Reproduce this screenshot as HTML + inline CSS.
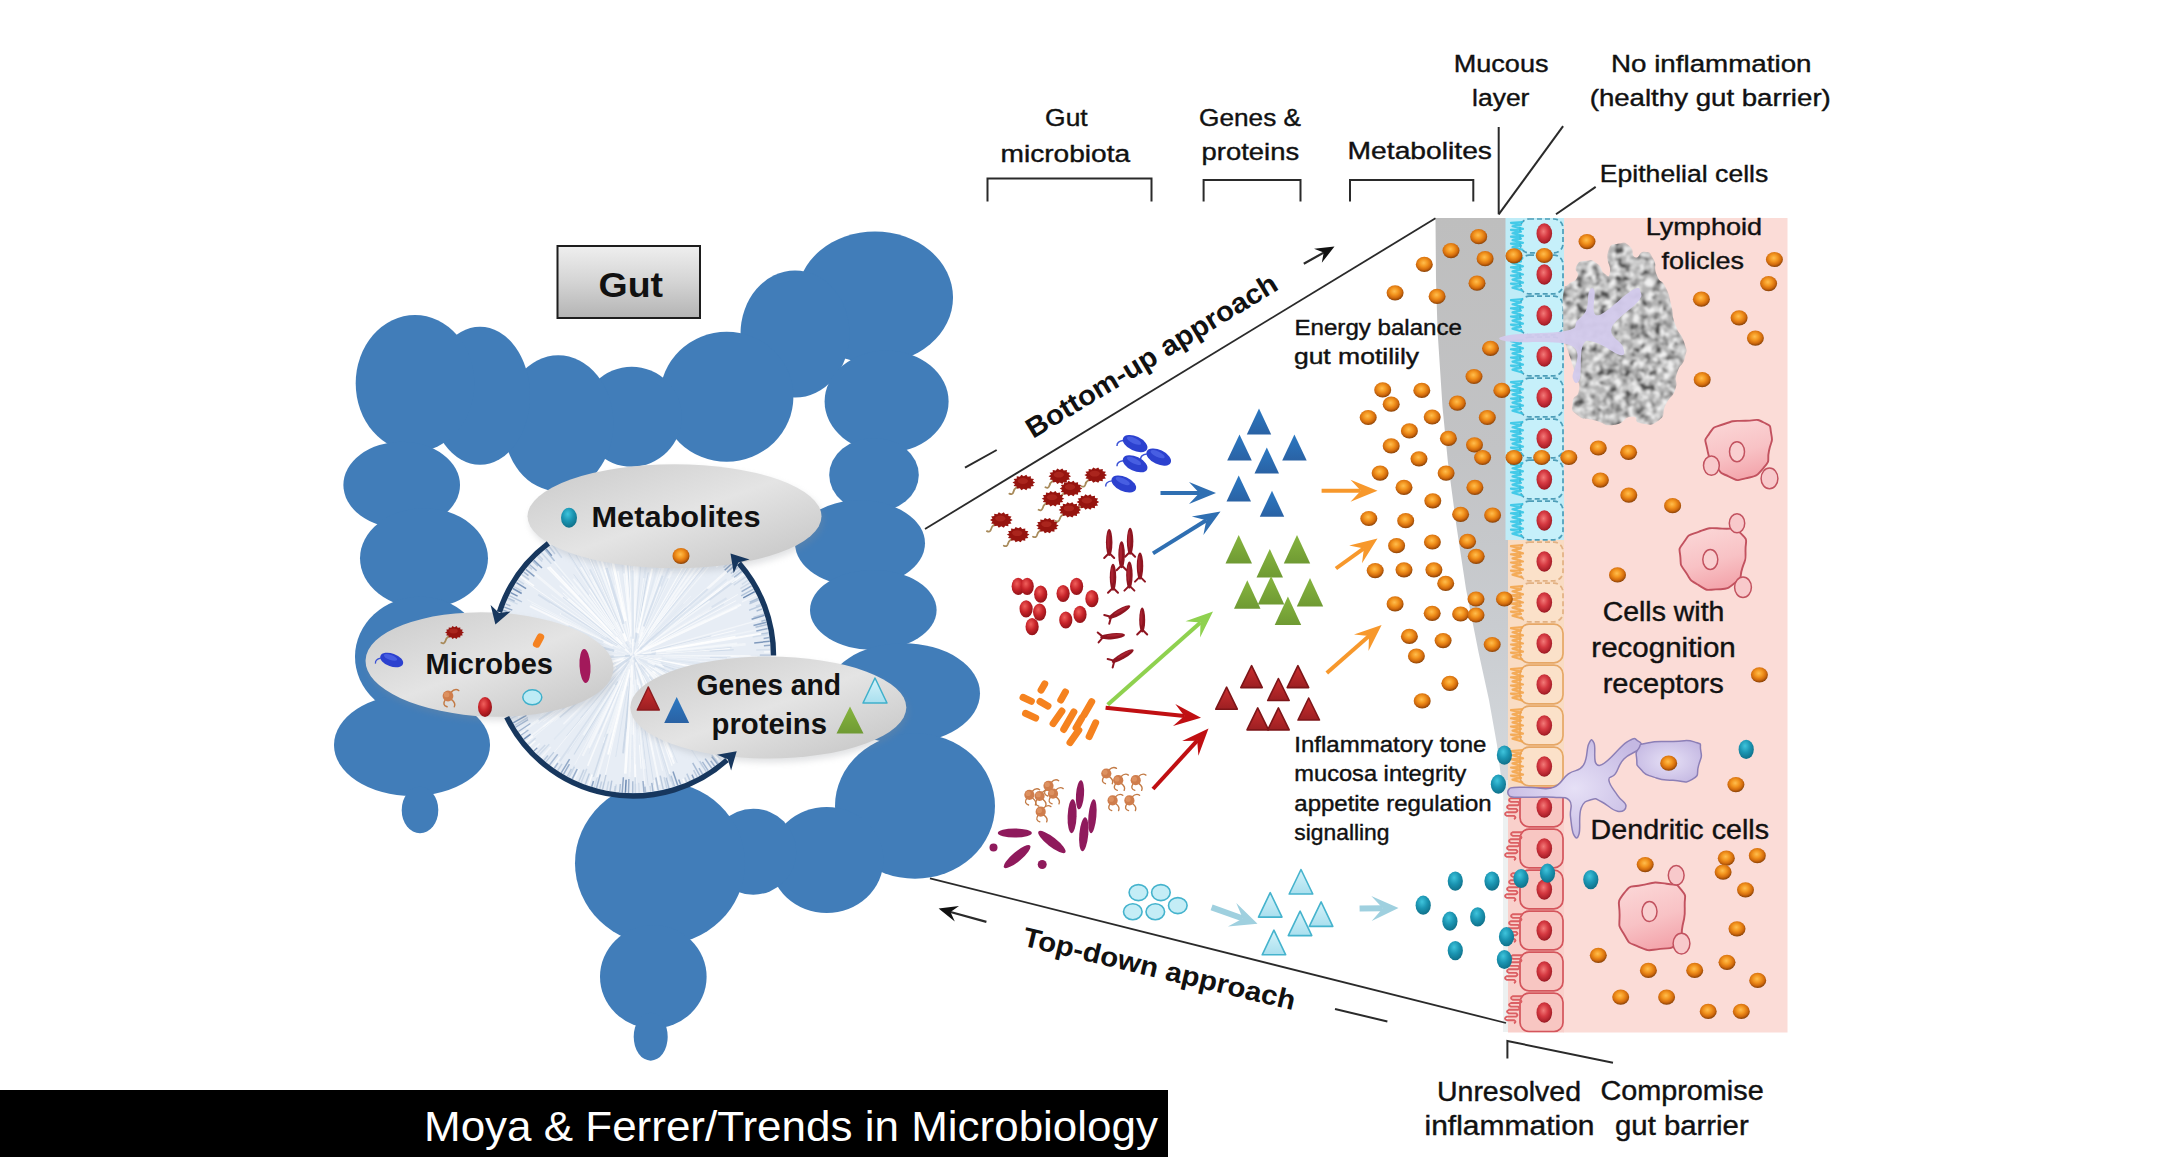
<!DOCTYPE html>
<html lang="en"><head><meta charset="utf-8"><title>Gut microbiota - bottom-up and top-down approaches</title>
<style>
html,body{margin:0;padding:0;background:#ffffff;}
svg{display:block;}
text{font-family:"Liberation Sans","DejaVu Sans",sans-serif;fill:#111;}
</style></head><body>
<svg width="2157" height="1157" viewBox="0 0 2157 1157">

<defs>
<radialGradient id="og" cx="0.46" cy="0.4" r="0.62">
 <stop offset="0" stop-color="#ffbe4e"/><stop offset="0.38" stop-color="#f3951f"/><stop offset="0.7" stop-color="#d36c0d"/><stop offset="0.9" stop-color="#9c4c08"/><stop offset="1" stop-color="#7c3b06"/>
</radialGradient>
<radialGradient id="tg" cx="0.42" cy="0.32" r="0.7">
 <stop offset="0" stop-color="#3fc4dc"/><stop offset="0.5" stop-color="#1b95b2"/><stop offset="1" stop-color="#0f6f88"/>
</radialGradient>
<radialGradient id="ng" cx="0.45" cy="0.4" r="0.65">
 <stop offset="0" stop-color="#f27a78"/><stop offset="0.45" stop-color="#d63a42"/><stop offset="0.82" stop-color="#ad212b"/><stop offset="1" stop-color="#7d1119"/>
</radialGradient>
<radialGradient id="rg" cx="0.4" cy="0.35" r="0.7">
 <stop offset="0" stop-color="#f0605c"/><stop offset="0.5" stop-color="#c8242a"/><stop offset="1" stop-color="#8a1016"/>
</radialGradient>
<linearGradient id="gutbox" x1="0" y1="0" x2="0" y2="1">
 <stop offset="0" stop-color="#efefef"/><stop offset="0.5" stop-color="#d4d4d4"/><stop offset="1" stop-color="#b4b4b4"/>
</linearGradient>
<linearGradient id="ell" x1="0" y1="0" x2="1" y2="1">
 <stop offset="0" stop-color="#c9c9c9"/><stop offset="0.5" stop-color="#e4e4e4"/><stop offset="1" stop-color="#c2c2c2"/>
</linearGradient>
<linearGradient id="muc" x1="0" y1="0" x2="0" y2="1">
 <stop offset="0" stop-color="#bebebe"/><stop offset="0.4" stop-color="#c2c3c5"/><stop offset="0.7" stop-color="#c9ccd0"/><stop offset="1" stop-color="#d6dade"/>
</linearGradient>
<linearGradient id="bt" x1="0" y1="0" x2="0" y2="1"><stop offset="0" stop-color="#2b78c2"/><stop offset="1" stop-color="#2a62a4"/></linearGradient>
<linearGradient id="gt" x1="0" y1="0" x2="0" y2="1"><stop offset="0" stop-color="#86b53f"/><stop offset="1" stop-color="#6f9a33"/></linearGradient>
<linearGradient id="rt" x1="0" y1="0" x2="0" y2="1"><stop offset="0" stop-color="#cc2f2f"/><stop offset="1" stop-color="#9c1f22"/></linearGradient>
<linearGradient id="lt" x1="0" y1="0" x2="0" y2="1"><stop offset="0" stop-color="#d6f3fa"/><stop offset="1" stop-color="#a9dfee"/></linearGradient>
<linearGradient id="mac" x1="0.3" y1="0" x2="0.6" y2="1"><stop offset="0" stop-color="#fbd6d6"/><stop offset="0.55" stop-color="#f8c2c5"/><stop offset="1" stop-color="#f3a3aa"/></linearGradient>
<radialGradient id="den" cx="0.5" cy="0.5" r="0.6"><stop offset="0" stop-color="#e6e0f6"/><stop offset="1" stop-color="#c4b8e2"/></radialGradient>
<filter id="noise" x="0" y="0" width="1" height="1">
 <feTurbulence type="fractalNoise" baseFrequency="0.13" numOctaves="2" seed="3" result="t"/>
 <feColorMatrix in="t" type="matrix" values="0 0 0 0 0  0 0 0 0 0  0 0 0 0 0  2.6 2.6 0 0 -2.45" result="a"/>
 <feFlood flood-color="#505050"/><feComposite in2="a" operator="in" result="dark"/>
 <feTurbulence type="fractalNoise" baseFrequency="0.15" numOctaves="2" seed="11" result="t2"/>
 <feColorMatrix in="t2" type="matrix" values="0 0 0 0 0  0 0 0 0 0  0 0 0 0 0  2.6 2.6 0 0 -2.2" result="a2"/>
 <feFlood flood-color="#f1f1f1"/><feComposite in2="a2" operator="in" result="light"/>
 <feMerge><feMergeNode in="SourceGraphic"/><feMergeNode in="light"/><feMergeNode in="dark"/></feMerge>
 <feGaussianBlur stdDeviation="0.8"/>
 <feComposite in2="SourceGraphic" operator="in"/>
</filter>
<filter id="soft" x="-0.1" y="-0.1" width="1.2" height="1.2"><feGaussianBlur stdDeviation="1.2"/></filter>
<filter id="sh" x="-0.1" y="-0.2" width="1.2" height="1.5"><feGaussianBlur stdDeviation="3"/></filter>
</defs>

<g fill="#417db9">
<ellipse cx="875" cy="297.5" rx="78" ry="66"/>
<ellipse cx="795" cy="334" rx="54.5" ry="63.5"/>
<ellipse cx="726.7" cy="396.7" rx="66.7" ry="65"/>
<ellipse cx="631.7" cy="416.7" rx="50" ry="50"/>
<ellipse cx="558.3" cy="423.3" rx="55" ry="68"/>
<ellipse cx="480" cy="395.7" rx="50" ry="69"/>
<ellipse cx="415" cy="383.3" rx="59.3" ry="68.3"/>
<ellipse cx="401.7" cy="485" rx="58.3" ry="43.3"/>
<ellipse cx="424" cy="558.3" rx="64" ry="50"/>
<ellipse cx="420" cy="656.7" rx="65" ry="60"/>
<ellipse cx="412" cy="745" rx="78" ry="51"/>
<ellipse cx="420" cy="810" rx="18.3" ry="23.3"/>
<ellipse cx="886.6" cy="401.6" rx="62" ry="51"/>
<ellipse cx="874" cy="475" rx="44.8" ry="37"/>
<ellipse cx="860" cy="543.3" rx="65" ry="43"/>
<ellipse cx="873.3" cy="610" rx="63.3" ry="40"/>
<ellipse cx="903.3" cy="693.3" rx="76.7" ry="50"/>
<ellipse cx="915" cy="806" rx="80" ry="72.7"/>
<ellipse cx="826.7" cy="860" rx="56.7" ry="53"/>
<ellipse cx="753.3" cy="851.7" rx="43" ry="43"/>
<ellipse cx="660" cy="863.3" rx="85" ry="81.7"/>
<ellipse cx="653.3" cy="976.7" rx="53.3" ry="51.7"/>
<ellipse cx="650.7" cy="1036.7" rx="17" ry="24"/>
</g>
<g>
<circle cx="633" cy="655.5" r="138" fill="#e7edf5"/>
<line x1="630.3" y1="660.9" x2="582.7" y2="755.9" stroke="#ffffff" stroke-width="2" opacity="0.49"/>
<line x1="601.4" y1="637.4" x2="560.1" y2="613.8" stroke="#ffffff" stroke-width="1.6" opacity="0.64"/>
<line x1="634.3" y1="677.5" x2="637.3" y2="729.2" stroke="#d3deec" stroke-width="0.8" opacity="0.88"/>
<line x1="617.1" y1="638.4" x2="582.5" y2="601.3" stroke="#d3deec" stroke-width="1.6" opacity="0.47"/>
<line x1="637.0" y1="677.4" x2="647.2" y2="732.9" stroke="#f6f9fc" stroke-width="1" opacity="0.69"/>
<line x1="612.8" y1="645.8" x2="529.8" y2="606.2" stroke="#ffffff" stroke-width="2" opacity="0.71"/>
<line x1="634.5" y1="659.1" x2="677.3" y2="763.0" stroke="#d3deec" stroke-width="0.8" opacity="0.73"/>
<line x1="611.7" y1="656.0" x2="512.5" y2="658.2" stroke="#f6f9fc" stroke-width="2" opacity="0.87"/>
<line x1="626.6" y1="663.1" x2="580.3" y2="717.9" stroke="#c9d6e6" stroke-width="1" opacity="0.49"/>
<line x1="626.9" y1="674.3" x2="604.3" y2="743.3" stroke="#f6f9fc" stroke-width="1.2" opacity="0.72"/>
<line x1="651.3" y1="664.6" x2="705.3" y2="691.3" stroke="#ffffff" stroke-width="1" opacity="0.87"/>
<line x1="599.1" y1="673.7" x2="566.9" y2="690.9" stroke="#d3deec" stroke-width="2" opacity="0.81"/>
<line x1="638.7" y1="643.1" x2="671.6" y2="571.2" stroke="#f6f9fc" stroke-width="2" opacity="0.81"/>
<line x1="636.4" y1="657.1" x2="712.5" y2="692.2" stroke="#dde6f1" stroke-width="2.6" opacity="0.48"/>
<line x1="631.5" y1="643.2" x2="620.3" y2="548.7" stroke="#dde6f1" stroke-width="1.6" opacity="0.58"/>
<line x1="612.8" y1="673.1" x2="579.2" y2="702.5" stroke="#f6f9fc" stroke-width="1.2" opacity="0.53"/>
<line x1="634.7" y1="657.1" x2="721.9" y2="736.0" stroke="#ffffff" stroke-width="2.6" opacity="0.56"/>
<line x1="606.0" y1="677.6" x2="574.7" y2="703.1" stroke="#f6f9fc" stroke-width="1.6" opacity="0.70"/>
<line x1="657.4" y1="633.6" x2="726.8" y2="571.1" stroke="#ffffff" stroke-width="2.6" opacity="0.64"/>
<line x1="610.7" y1="682.9" x2="549.5" y2="758.1" stroke="#ffffff" stroke-width="0.8" opacity="0.53"/>
<line x1="634.1" y1="664.8" x2="644.5" y2="756.4" stroke="#d3deec" stroke-width="1" opacity="0.57"/>
<line x1="649.8" y1="655.9" x2="727.0" y2="657.9" stroke="#d3deec" stroke-width="1.2" opacity="0.88"/>
<line x1="625.5" y1="636.3" x2="592.8" y2="553.0" stroke="#dde6f1" stroke-width="2.6" opacity="0.47"/>
<line x1="658.2" y1="637.1" x2="735.4" y2="580.6" stroke="#c9d6e6" stroke-width="2" opacity="0.63"/>
<line x1="629.7" y1="658.0" x2="543.4" y2="721.5" stroke="#ffffff" stroke-width="1" opacity="0.48"/>
<line x1="634.7" y1="661.8" x2="656.6" y2="744.5" stroke="#ffffff" stroke-width="0.8" opacity="0.45"/>
<line x1="635.4" y1="658.8" x2="687.4" y2="731.7" stroke="#ffffff" stroke-width="0.8" opacity="0.84"/>
<line x1="628.5" y1="651.6" x2="567.9" y2="598.7" stroke="#ffffff" stroke-width="2" opacity="0.61"/>
<line x1="657.3" y1="679.2" x2="729.4" y2="749.3" stroke="#f6f9fc" stroke-width="1.6" opacity="0.67"/>
<line x1="636.5" y1="657.6" x2="712.2" y2="702.9" stroke="#ffffff" stroke-width="1.6" opacity="0.82"/>
<line x1="633.5" y1="656.3" x2="702.6" y2="767.4" stroke="#d3deec" stroke-width="1.2" opacity="0.52"/>
<line x1="632.0" y1="655.2" x2="532.5" y2="627.5" stroke="#dde6f1" stroke-width="0.8" opacity="0.76"/>
<line x1="632.0" y1="670.1" x2="627.4" y2="736.2" stroke="#c9d6e6" stroke-width="1" opacity="0.69"/>
<line x1="635.4" y1="642.5" x2="648.3" y2="572.4" stroke="#c9d6e6" stroke-width="1" opacity="0.81"/>
<line x1="645.3" y1="628.6" x2="668.3" y2="578.5" stroke="#d3deec" stroke-width="1.6" opacity="0.61"/>
<line x1="634.1" y1="655.7" x2="719.7" y2="671.5" stroke="#ffffff" stroke-width="1" opacity="0.76"/>
<line x1="650.2" y1="650.7" x2="759.1" y2="620.2" stroke="#ffffff" stroke-width="1.2" opacity="0.49"/>
<line x1="648.1" y1="666.8" x2="706.7" y2="710.6" stroke="#f6f9fc" stroke-width="2" opacity="0.89"/>
<line x1="632.9" y1="655.5" x2="533.7" y2="573.0" stroke="#ffffff" stroke-width="2.6" opacity="0.49"/>
<line x1="613.6" y1="624.7" x2="568.6" y2="553.2" stroke="#c9d6e6" stroke-width="1" opacity="0.67"/>
<line x1="646.7" y1="683.9" x2="672.8" y2="738.0" stroke="#c9d6e6" stroke-width="2.6" opacity="0.63"/>
<line x1="602.2" y1="677.5" x2="537.7" y2="723.5" stroke="#ffffff" stroke-width="1" opacity="0.46"/>
<line x1="617.3" y1="645.4" x2="538.2" y2="594.7" stroke="#d3deec" stroke-width="2" opacity="0.89"/>
<line x1="625.3" y1="643.8" x2="574.9" y2="567.3" stroke="#ffffff" stroke-width="0.8" opacity="0.46"/>
<line x1="658.6" y1="650.8" x2="735.5" y2="636.5" stroke="#ffffff" stroke-width="1.6" opacity="0.89"/>
<line x1="644.9" y1="688.4" x2="657.4" y2="723.0" stroke="#ffffff" stroke-width="1.2" opacity="0.68"/>
<line x1="634.1" y1="642.5" x2="642.0" y2="550.5" stroke="#c9d6e6" stroke-width="1" opacity="0.48"/>
<line x1="630.7" y1="619.7" x2="625.8" y2="542.7" stroke="#c9d6e6" stroke-width="2" opacity="0.64"/>
<line x1="650.4" y1="645.6" x2="723.9" y2="603.8" stroke="#d3deec" stroke-width="2" opacity="0.46"/>
<line x1="626.2" y1="658.2" x2="567.7" y2="681.3" stroke="#c9d6e6" stroke-width="1" opacity="0.53"/>
<line x1="604.4" y1="660.3" x2="528.3" y2="673.1" stroke="#ffffff" stroke-width="2.6" opacity="0.68"/>
<line x1="603.5" y1="644.8" x2="560.7" y2="629.3" stroke="#d3deec" stroke-width="0.8" opacity="0.56"/>
<line x1="627.8" y1="685.9" x2="615.7" y2="757.0" stroke="#d3deec" stroke-width="0.8" opacity="0.79"/>
<line x1="648.1" y1="646.2" x2="726.6" y2="598.1" stroke="#d3deec" stroke-width="2" opacity="0.68"/>
<line x1="626.6" y1="638.6" x2="596.1" y2="557.5" stroke="#f6f9fc" stroke-width="2" opacity="0.87"/>
<line x1="622.0" y1="622.2" x2="591.8" y2="530.9" stroke="#ffffff" stroke-width="2" opacity="0.85"/>
<line x1="638.3" y1="672.6" x2="661.5" y2="748.3" stroke="#f6f9fc" stroke-width="1.6" opacity="0.59"/>
<line x1="624.9" y1="640.4" x2="593.2" y2="581.8" stroke="#ffffff" stroke-width="0.8" opacity="0.85"/>
<line x1="649.2" y1="679.1" x2="696.8" y2="748.7" stroke="#ffffff" stroke-width="1.2" opacity="0.85"/>
<line x1="641.6" y1="653.7" x2="762.2" y2="628.8" stroke="#f6f9fc" stroke-width="1.6" opacity="0.52"/>
<line x1="628.6" y1="647.7" x2="575.8" y2="554.7" stroke="#d3deec" stroke-width="1.6" opacity="0.60"/>
<line x1="637.3" y1="667.5" x2="672.1" y2="765.7" stroke="#ffffff" stroke-width="1.2" opacity="0.70"/>
<line x1="632.3" y1="655.8" x2="547.8" y2="689.0" stroke="#d3deec" stroke-width="1.2" opacity="0.68"/>
<line x1="669.2" y1="671.0" x2="744.5" y2="703.2" stroke="#ffffff" stroke-width="0.8" opacity="0.57"/>
<line x1="663.2" y1="663.2" x2="717.9" y2="677.1" stroke="#ffffff" stroke-width="1.6" opacity="0.83"/>
<line x1="616.0" y1="621.7" x2="589.8" y2="569.4" stroke="#d3deec" stroke-width="2" opacity="0.71"/>
<line x1="631.9" y1="652.1" x2="610.4" y2="585.3" stroke="#dde6f1" stroke-width="1" opacity="0.64"/>
<line x1="666.7" y1="672.0" x2="732.9" y2="704.4" stroke="#c9d6e6" stroke-width="1.2" opacity="0.49"/>
<line x1="634.6" y1="653.4" x2="711.0" y2="556.5" stroke="#f6f9fc" stroke-width="0.8" opacity="0.60"/>
<line x1="598.0" y1="643.4" x2="550.4" y2="626.9" stroke="#ffffff" stroke-width="0.8" opacity="0.69"/>
<line x1="633.3" y1="659.9" x2="638.8" y2="735.8" stroke="#ffffff" stroke-width="1" opacity="0.54"/>
<line x1="628.4" y1="666.8" x2="587.7" y2="765.9" stroke="#ffffff" stroke-width="1.6" opacity="0.68"/>
<line x1="639.1" y1="668.0" x2="664.2" y2="719.5" stroke="#ffffff" stroke-width="0.8" opacity="0.46"/>
<line x1="630.7" y1="633.6" x2="624.3" y2="573.7" stroke="#f6f9fc" stroke-width="1" opacity="0.87"/>
<line x1="658.7" y1="675.8" x2="710.0" y2="716.2" stroke="#f6f9fc" stroke-width="2" opacity="0.83"/>
<line x1="617.1" y1="668.1" x2="543.2" y2="726.9" stroke="#ffffff" stroke-width="1.2" opacity="0.54"/>
<line x1="654.5" y1="635.8" x2="691.3" y2="602.1" stroke="#ffffff" stroke-width="0.8" opacity="0.83"/>
<line x1="657.9" y1="657.7" x2="759.7" y2="666.9" stroke="#f6f9fc" stroke-width="1" opacity="0.47"/>
<line x1="625.3" y1="642.4" x2="580.8" y2="566.9" stroke="#ffffff" stroke-width="2" opacity="0.56"/>
<line x1="628.1" y1="673.2" x2="611.6" y2="732.8" stroke="#f6f9fc" stroke-width="0.8" opacity="0.57"/>
<line x1="670.8" y1="646.2" x2="735.5" y2="630.4" stroke="#ffffff" stroke-width="0.8" opacity="0.88"/>
<line x1="627.8" y1="668.8" x2="607.4" y2="720.7" stroke="#f6f9fc" stroke-width="0.8" opacity="0.66"/>
<line x1="625.0" y1="655.4" x2="530.2" y2="653.7" stroke="#ffffff" stroke-width="0.8" opacity="0.57"/>
<line x1="646.5" y1="664.0" x2="694.4" y2="694.4" stroke="#ffffff" stroke-width="1.2" opacity="0.59"/>
<line x1="635.5" y1="678.8" x2="644.3" y2="759.3" stroke="#c9d6e6" stroke-width="1" opacity="0.75"/>
<line x1="625.5" y1="621.1" x2="612.8" y2="562.3" stroke="#ffffff" stroke-width="2.6" opacity="0.89"/>
<line x1="650.1" y1="678.9" x2="699.0" y2="745.7" stroke="#ffffff" stroke-width="2.6" opacity="0.85"/>
<line x1="612.5" y1="634.4" x2="547.5" y2="567.4" stroke="#ffffff" stroke-width="2" opacity="0.79"/>
<line x1="603.4" y1="641.9" x2="568.4" y2="625.9" stroke="#dde6f1" stroke-width="2" opacity="0.81"/>
<line x1="623.8" y1="618.4" x2="606.0" y2="547.0" stroke="#ffffff" stroke-width="0.8" opacity="0.47"/>
<line x1="608.0" y1="626.4" x2="571.5" y2="583.8" stroke="#f6f9fc" stroke-width="2" opacity="0.47"/>
<line x1="654.1" y1="658.0" x2="718.3" y2="665.6" stroke="#ffffff" stroke-width="0.8" opacity="0.66"/>
<line x1="666.7" y1="671.4" x2="749.1" y2="710.2" stroke="#ffffff" stroke-width="2.6" opacity="0.69"/>
<line x1="632.5" y1="636.6" x2="629.7" y2="532.9" stroke="#c9d6e6" stroke-width="1.2" opacity="0.56"/>
<line x1="633.4" y1="646.3" x2="637.5" y2="543.3" stroke="#f6f9fc" stroke-width="1.6" opacity="0.83"/>
<line x1="665.3" y1="672.4" x2="711.6" y2="696.6" stroke="#ffffff" stroke-width="2" opacity="0.73"/>
<line x1="640.7" y1="678.2" x2="662.2" y2="742.3" stroke="#dde6f1" stroke-width="2.6" opacity="0.76"/>
<line x1="629.1" y1="651.8" x2="559.6" y2="585.6" stroke="#f6f9fc" stroke-width="1.2" opacity="0.89"/>
<line x1="640.1" y1="660.6" x2="715.6" y2="715.1" stroke="#dde6f1" stroke-width="2" opacity="0.58"/>
<line x1="603.0" y1="662.0" x2="501.5" y2="684.1" stroke="#d3deec" stroke-width="1" opacity="0.59"/>
<line x1="649.2" y1="665.2" x2="709.2" y2="701.1" stroke="#ffffff" stroke-width="2" opacity="0.89"/>
<line x1="622.8" y1="658.9" x2="553.5" y2="681.6" stroke="#ffffff" stroke-width="0.8" opacity="0.71"/>
<line x1="646.2" y1="671.8" x2="716.0" y2="758.1" stroke="#ffffff" stroke-width="2" opacity="0.82"/>
<line x1="597.6" y1="653.6" x2="517.5" y2="649.1" stroke="#ffffff" stroke-width="1.6" opacity="0.85"/>
<line x1="632.0" y1="655.6" x2="563.0" y2="661.6" stroke="#f6f9fc" stroke-width="2.6" opacity="0.65"/>
<line x1="631.2" y1="660.8" x2="603.4" y2="743.0" stroke="#ffffff" stroke-width="0.8" opacity="0.83"/>
<line x1="663.0" y1="655.8" x2="757.5" y2="656.9" stroke="#ffffff" stroke-width="1" opacity="0.77"/>
<line x1="642.4" y1="648.8" x2="709.7" y2="600.9" stroke="#f6f9fc" stroke-width="1.6" opacity="0.90"/>
<line x1="620.8" y1="647.8" x2="550.1" y2="603.5" stroke="#ffffff" stroke-width="0.8" opacity="0.58"/>
<line x1="658.1" y1="663.9" x2="738.5" y2="691.0" stroke="#ffffff" stroke-width="1" opacity="0.89"/>
<line x1="621.4" y1="660.4" x2="522.3" y2="702.4" stroke="#c9d6e6" stroke-width="1.6" opacity="0.85"/>
<line x1="642.6" y1="632.2" x2="682.1" y2="535.8" stroke="#d3deec" stroke-width="2" opacity="0.54"/>
<line x1="665.7" y1="673.6" x2="717.6" y2="702.4" stroke="#d3deec" stroke-width="1" opacity="0.74"/>
<line x1="632.6" y1="657.4" x2="603.6" y2="782.4" stroke="#ffffff" stroke-width="1" opacity="0.66"/>
<line x1="626.4" y1="665.4" x2="567.5" y2="753.7" stroke="#dde6f1" stroke-width="1.2" opacity="0.63"/>
<line x1="634.4" y1="674.8" x2="641.1" y2="768.7" stroke="#ffffff" stroke-width="1" opacity="0.74"/>
<line x1="650.8" y1="664.6" x2="742.3" y2="711.4" stroke="#d3deec" stroke-width="1" opacity="0.65"/>
<line x1="617.9" y1="681.8" x2="584.4" y2="740.3" stroke="#d3deec" stroke-width="1" opacity="0.56"/>
<line x1="643.1" y1="675.3" x2="674.4" y2="736.3" stroke="#ffffff" stroke-width="1.2" opacity="0.81"/>
<line x1="633.2" y1="656.3" x2="670.5" y2="776.4" stroke="#f6f9fc" stroke-width="1.6" opacity="0.79"/>
<line x1="635.7" y1="666.0" x2="662.6" y2="770.7" stroke="#f6f9fc" stroke-width="1.2" opacity="0.71"/>
<line x1="615.5" y1="676.7" x2="566.4" y2="735.9" stroke="#c9d6e6" stroke-width="1" opacity="0.49"/>
<line x1="645.3" y1="646.2" x2="722.2" y2="587.9" stroke="#f6f9fc" stroke-width="1.2" opacity="0.83"/>
<line x1="633.6" y1="654.9" x2="683.3" y2="603.8" stroke="#dde6f1" stroke-width="1.6" opacity="0.89"/>
<line x1="630.1" y1="655.7" x2="502.8" y2="663.8" stroke="#c9d6e6" stroke-width="2" opacity="0.83"/>
<line x1="642.8" y1="653.8" x2="708.9" y2="642.1" stroke="#ffffff" stroke-width="1" opacity="0.69"/>
<line x1="617.4" y1="621.2" x2="584.6" y2="549.1" stroke="#dde6f1" stroke-width="1.6" opacity="0.49"/>
<line x1="633.0" y1="655.4" x2="646.1" y2="578.4" stroke="#d3deec" stroke-width="0.8" opacity="0.74"/>
<line x1="631.3" y1="660.3" x2="604.4" y2="737.0" stroke="#dde6f1" stroke-width="1.6" opacity="0.76"/>
<line x1="635.1" y1="657.3" x2="712.3" y2="722.9" stroke="#d3deec" stroke-width="1" opacity="0.62"/>
<line x1="637.0" y1="679.2" x2="644.7" y2="725.2" stroke="#ffffff" stroke-width="1.6" opacity="0.58"/>
<line x1="619.4" y1="686.2" x2="598.3" y2="733.9" stroke="#d3deec" stroke-width="1" opacity="0.70"/>
<line x1="649.2" y1="658.5" x2="743.3" y2="676.0" stroke="#ffffff" stroke-width="0.8" opacity="0.54"/>
<line x1="652.4" y1="638.4" x2="689.4" y2="605.7" stroke="#ffffff" stroke-width="2.6" opacity="0.64"/>
<line x1="619.5" y1="669.9" x2="554.0" y2="739.4" stroke="#dde6f1" stroke-width="1.6" opacity="0.61"/>
<line x1="632.8" y1="655.7" x2="562.2" y2="709.4" stroke="#c9d6e6" stroke-width="2" opacity="0.48"/>
<line x1="625.0" y1="655.7" x2="513.3" y2="658.7" stroke="#ffffff" stroke-width="1" opacity="0.66"/>
<line x1="629.6" y1="690.9" x2="625.7" y2="732.2" stroke="#d3deec" stroke-width="1.6" opacity="0.72"/>
<line x1="648.4" y1="643.8" x2="735.8" y2="577.3" stroke="#ffffff" stroke-width="2" opacity="0.52"/>
<line x1="626.3" y1="660.8" x2="528.5" y2="738.2" stroke="#ffffff" stroke-width="1.6" opacity="0.47"/>
<line x1="647.6" y1="661.3" x2="752.3" y2="702.9" stroke="#ffffff" stroke-width="2.6" opacity="0.50"/>
<line x1="638.8" y1="658.7" x2="705.4" y2="694.9" stroke="#dde6f1" stroke-width="2" opacity="0.79"/>
<line x1="659.0" y1="660.8" x2="725.7" y2="674.3" stroke="#ffffff" stroke-width="1.2" opacity="0.65"/>
<line x1="635.4" y1="657.5" x2="691.3" y2="703.1" stroke="#f6f9fc" stroke-width="0.8" opacity="0.70"/>
<line x1="633.8" y1="640.3" x2="639.6" y2="535.7" stroke="#ffffff" stroke-width="1.6" opacity="0.49"/>
<line x1="630.8" y1="648.0" x2="603.8" y2="554.4" stroke="#f6f9fc" stroke-width="1" opacity="0.60"/>
<line x1="631.5" y1="636.6" x2="624.2" y2="544.8" stroke="#ffffff" stroke-width="2.6" opacity="0.80"/>
<line x1="634.3" y1="655.9" x2="704.7" y2="674.2" stroke="#ffffff" stroke-width="1.2" opacity="0.54"/>
<line x1="655.4" y1="664.8" x2="719.4" y2="691.5" stroke="#ffffff" stroke-width="2" opacity="0.47"/>
<line x1="632.4" y1="627.9" x2="630.1" y2="525.5" stroke="#ffffff" stroke-width="0.8" opacity="0.77"/>
<line x1="606.4" y1="637.3" x2="524.5" y2="581.2" stroke="#ffffff" stroke-width="0.8" opacity="0.82"/>
<line x1="655.4" y1="673.4" x2="711.4" y2="718.1" stroke="#c9d6e6" stroke-width="1.6" opacity="0.81"/>
<line x1="660.9" y1="638.7" x2="700.3" y2="614.9" stroke="#f6f9fc" stroke-width="1" opacity="0.45"/>
<line x1="644.0" y1="650.4" x2="737.4" y2="607.2" stroke="#ffffff" stroke-width="2" opacity="0.56"/>
<line x1="644.9" y1="641.4" x2="710.8" y2="562.9" stroke="#d3deec" stroke-width="0.8" opacity="0.68"/>
<line x1="628.0" y1="659.5" x2="558.0" y2="716.2" stroke="#dde6f1" stroke-width="0.8" opacity="0.67"/>
<line x1="626.8" y1="653.7" x2="539.1" y2="628.5" stroke="#ffffff" stroke-width="0.8" opacity="0.57"/>
<line x1="636.3" y1="657.4" x2="721.4" y2="707.1" stroke="#dde6f1" stroke-width="1.6" opacity="0.53"/>
<line x1="645.4" y1="669.2" x2="718.8" y2="750.4" stroke="#ffffff" stroke-width="2.6" opacity="0.69"/>
<line x1="637.5" y1="625.5" x2="651.0" y2="536.2" stroke="#ffffff" stroke-width="1.2" opacity="0.58"/>
<line x1="631.9" y1="665.6" x2="623.4" y2="741.9" stroke="#f6f9fc" stroke-width="1" opacity="0.53"/>
<line x1="634.0" y1="666.7" x2="644.7" y2="784.0" stroke="#ffffff" stroke-width="1.2" opacity="0.48"/>
<line x1="632.9" y1="665.3" x2="631.9" y2="759.7" stroke="#dde6f1" stroke-width="0.8" opacity="0.74"/>
<line x1="637.1" y1="655.3" x2="733.7" y2="649.8" stroke="#c9d6e6" stroke-width="1" opacity="0.83"/>
<line x1="634.4" y1="654.7" x2="709.5" y2="609.8" stroke="#ffffff" stroke-width="0.8" opacity="0.54"/>
<line x1="656.0" y1="651.6" x2="761.6" y2="633.4" stroke="#ffffff" stroke-width="2" opacity="0.84"/>
<line x1="623.1" y1="658.8" x2="518.6" y2="693.4" stroke="#ffffff" stroke-width="0.8" opacity="0.74"/>
<line x1="629.5" y1="642.0" x2="614.9" y2="585.4" stroke="#ffffff" stroke-width="1" opacity="0.47"/>
<line x1="634.5" y1="655.5" x2="750.6" y2="655.4" stroke="#ffffff" stroke-width="0.8" opacity="0.82"/>
<line x1="620.5" y1="663.5" x2="540.2" y2="715.2" stroke="#ffffff" stroke-width="1" opacity="0.46"/>
<line x1="613.7" y1="656.0" x2="536.5" y2="658.2" stroke="#c9d6e6" stroke-width="1.6" opacity="0.75"/>
<line x1="645.1" y1="673.1" x2="696.5" y2="748.3" stroke="#f6f9fc" stroke-width="2.6" opacity="0.57"/>
<line x1="659.6" y1="653.5" x2="729.9" y2="648.3" stroke="#ffffff" stroke-width="1.2" opacity="0.79"/>
<line x1="645.3" y1="644.4" x2="686.0" y2="608.0" stroke="#c9d6e6" stroke-width="1.2" opacity="0.74"/>
<line x1="620.5" y1="665.8" x2="531.5" y2="738.7" stroke="#f6f9fc" stroke-width="1" opacity="0.64"/>
<line x1="640.0" y1="640.8" x2="687.5" y2="540.4" stroke="#f6f9fc" stroke-width="1" opacity="0.51"/>
<line x1="638.4" y1="657.3" x2="749.0" y2="694.6" stroke="#f6f9fc" stroke-width="0.8" opacity="0.71"/>
<line x1="659.5" y1="642.5" x2="705.8" y2="619.7" stroke="#ffffff" stroke-width="1.2" opacity="0.52"/>
<line x1="634.3" y1="657.9" x2="677.8" y2="739.2" stroke="#c9d6e6" stroke-width="1" opacity="0.59"/>
<line x1="633.9" y1="654.0" x2="700.4" y2="545.1" stroke="#ffffff" stroke-width="0.8" opacity="0.72"/>
<line x1="630.7" y1="652.9" x2="556.8" y2="567.6" stroke="#dde6f1" stroke-width="1" opacity="0.74"/>
<line x1="648.4" y1="636.0" x2="701.3" y2="569.3" stroke="#ffffff" stroke-width="1.6" opacity="0.53"/>
<line x1="636.2" y1="671.2" x2="653.6" y2="757.1" stroke="#f6f9fc" stroke-width="1.2" opacity="0.51"/>
<line x1="633.5" y1="684.5" x2="635.4" y2="783.8" stroke="#ffffff" stroke-width="2" opacity="0.83"/>
<line x1="620.5" y1="631.9" x2="590.3" y2="575.1" stroke="#f6f9fc" stroke-width="2" opacity="0.66"/>
<line x1="651.1" y1="630.2" x2="698.4" y2="564.3" stroke="#ffffff" stroke-width="2" opacity="0.56"/>
<line x1="621.7" y1="664.9" x2="554.2" y2="721.4" stroke="#ffffff" stroke-width="0.8" opacity="0.45"/>
<line x1="651.5" y1="653.9" x2="731.7" y2="646.9" stroke="#d3deec" stroke-width="1.6" opacity="0.83"/>
<line x1="638.9" y1="640.6" x2="660.6" y2="586.5" stroke="#ffffff" stroke-width="1.6" opacity="0.61"/>
<line x1="639.5" y1="636.4" x2="669.4" y2="548.8" stroke="#ffffff" stroke-width="2.6" opacity="0.51"/>
<line x1="644.1" y1="649.6" x2="736.1" y2="600.6" stroke="#ffffff" stroke-width="0.8" opacity="0.79"/>
<line x1="653.6" y1="639.5" x2="728.5" y2="581.3" stroke="#ffffff" stroke-width="0.8" opacity="0.90"/>
<line x1="629.3" y1="623.1" x2="623.7" y2="573.4" stroke="#f6f9fc" stroke-width="1.2" opacity="0.88"/>
<line x1="638.7" y1="652.2" x2="737.8" y2="594.5" stroke="#ffffff" stroke-width="0.8" opacity="0.82"/>
<line x1="625.2" y1="649.0" x2="563.0" y2="597.3" stroke="#d3deec" stroke-width="1.2" opacity="0.86"/>
<line x1="623.2" y1="658.3" x2="505.3" y2="691.4" stroke="#f6f9fc" stroke-width="1" opacity="0.72"/>
<line x1="625.9" y1="649.2" x2="562.7" y2="592.8" stroke="#ffffff" stroke-width="1" opacity="0.63"/>
<line x1="625.7" y1="647.1" x2="573.3" y2="586.4" stroke="#f6f9fc" stroke-width="1" opacity="0.81"/>
<line x1="630.2" y1="686.1" x2="626.4" y2="728.4" stroke="#c9d6e6" stroke-width="1.2" opacity="0.88"/>
<line x1="613.0" y1="661.6" x2="523.2" y2="688.9" stroke="#ffffff" stroke-width="1.2" opacity="0.90"/>
<line x1="622.2" y1="644.0" x2="549.5" y2="566.8" stroke="#ffffff" stroke-width="1.6" opacity="0.90"/>
<line x1="620.3" y1="648.8" x2="527.2" y2="599.6" stroke="#f6f9fc" stroke-width="1" opacity="0.53"/>
<line x1="632.9" y1="653.6" x2="628.0" y2="532.3" stroke="#ffffff" stroke-width="1.2" opacity="0.74"/>
<line x1="656.3" y1="653.2" x2="745.6" y2="644.2" stroke="#ffffff" stroke-width="2.6" opacity="0.45"/>
<line x1="638.8" y1="656.8" x2="740.6" y2="678.7" stroke="#f6f9fc" stroke-width="1.6" opacity="0.68"/>
<line x1="637.2" y1="652.3" x2="700.2" y2="603.8" stroke="#dde6f1" stroke-width="0.8" opacity="0.46"/>
<line x1="647.2" y1="655.7" x2="709.9" y2="656.8" stroke="#ffffff" stroke-width="2" opacity="0.55"/>
<line x1="612.6" y1="643.7" x2="561.0" y2="613.7" stroke="#d3deec" stroke-width="1.6" opacity="0.52"/>
<line x1="664.9" y1="658.3" x2="748.5" y2="665.8" stroke="#f6f9fc" stroke-width="0.8" opacity="0.48"/>
<line x1="649.4" y1="676.5" x2="686.8" y2="724.6" stroke="#c9d6e6" stroke-width="1.2" opacity="0.89"/>
<line x1="663.8" y1="666.8" x2="753.1" y2="699.7" stroke="#d3deec" stroke-width="2.6" opacity="0.71"/>
<line x1="616.4" y1="643.1" x2="551.2" y2="594.6" stroke="#ffffff" stroke-width="0.8" opacity="0.47"/>
<line x1="617.1" y1="652.3" x2="549.2" y2="638.7" stroke="#ffffff" stroke-width="0.8" opacity="0.46"/>
<line x1="597.3" y1="643.7" x2="557.8" y2="630.6" stroke="#ffffff" stroke-width="2" opacity="0.72"/>
<line x1="607.4" y1="654.4" x2="510.2" y2="650.1" stroke="#ffffff" stroke-width="2" opacity="0.59"/>
<line x1="632.4" y1="657.3" x2="593.3" y2="777.0" stroke="#c9d6e6" stroke-width="1.6" opacity="0.77"/>
<line x1="666.8" y1="656.8" x2="751.3" y2="660.2" stroke="#f6f9fc" stroke-width="0.8" opacity="0.78"/>
<line x1="624.4" y1="658.2" x2="559.6" y2="678.1" stroke="#ffffff" stroke-width="2.6" opacity="0.47"/>
<line x1="617.7" y1="681.3" x2="574.0" y2="754.5" stroke="#c9d6e6" stroke-width="1.2" opacity="0.77"/>
<line x1="630.8" y1="677.5" x2="623.1" y2="753.3" stroke="#c9d6e6" stroke-width="2" opacity="0.89"/>
<line x1="622.5" y1="691.1" x2="596.8" y2="778.4" stroke="#ffffff" stroke-width="2" opacity="0.46"/>
<line x1="632.4" y1="664.9" x2="625.3" y2="773.6" stroke="#ffffff" stroke-width="2.6" opacity="0.86"/>
<line x1="638.5" y1="670.0" x2="671.9" y2="757.4" stroke="#f6f9fc" stroke-width="2.6" opacity="0.86"/>
<line x1="666.4" y1="651.6" x2="737.2" y2="643.4" stroke="#f6f9fc" stroke-width="2" opacity="0.76"/>
<line x1="643.9" y1="641.9" x2="706.2" y2="564.1" stroke="#d3deec" stroke-width="1.2" opacity="0.81"/>
<line x1="614.8" y1="670.2" x2="550.1" y2="722.7" stroke="#ffffff" stroke-width="1" opacity="0.46"/>
<line x1="652.0" y1="671.6" x2="694.4" y2="707.6" stroke="#ffffff" stroke-width="2.6" opacity="0.46"/>
<line x1="659.8" y1="662.7" x2="740.4" y2="684.3" stroke="#dde6f1" stroke-width="0.8" opacity="0.78"/>
<line x1="654.6" y1="665.0" x2="718.7" y2="693.1" stroke="#c9d6e6" stroke-width="2" opacity="0.85"/>
<line x1="664.8" y1="669.5" x2="751.5" y2="707.6" stroke="#f6f9fc" stroke-width="0.8" opacity="0.56"/>
<line x1="633.4" y1="656.8" x2="671.2" y2="781.5" stroke="#c9d6e6" stroke-width="2.6" opacity="0.49"/>
<line x1="633.2" y1="630.2" x2="633.9" y2="554.5" stroke="#ffffff" stroke-width="0.8" opacity="0.81"/>
<line x1="625.9" y1="646.1" x2="577.3" y2="582.4" stroke="#ffffff" stroke-width="0.8" opacity="0.61"/>
<line x1="634.8" y1="654.7" x2="741.1" y2="604.7" stroke="#ffffff" stroke-width="2" opacity="0.68"/>
<line x1="647.7" y1="635.6" x2="675.8" y2="597.6" stroke="#f6f9fc" stroke-width="0.8" opacity="0.65"/>
<line x1="635.0" y1="641.8" x2="649.7" y2="540.9" stroke="#d3deec" stroke-width="2" opacity="0.55"/>
<line x1="635.4" y1="652.7" x2="712.9" y2="561.6" stroke="#ffffff" stroke-width="1.6" opacity="0.45"/>
<line x1="642.0" y1="684.6" x2="672.6" y2="783.0" stroke="#ffffff" stroke-width="1.2" opacity="0.67"/>
<line x1="601.2" y1="657.2" x2="551.1" y2="659.9" stroke="#f6f9fc" stroke-width="2" opacity="0.61"/>
<line x1="638.1" y1="646.4" x2="697.6" y2="541.1" stroke="#ffffff" stroke-width="1" opacity="0.87"/>
<line x1="633.8" y1="662.1" x2="648.2" y2="785.6" stroke="#c9d6e6" stroke-width="0.8" opacity="0.67"/>
<line x1="655.4" y1="654.2" x2="709.7" y2="651.2" stroke="#ffffff" stroke-width="1.2" opacity="0.49"/>
<line x1="665.1" y1="640.0" x2="739.7" y2="604.1" stroke="#f6f9fc" stroke-width="2.6" opacity="0.46"/>
<line x1="635.9" y1="665.6" x2="668.0" y2="779.2" stroke="#d3deec" stroke-width="1" opacity="0.62"/>
<line x1="640.0" y1="649.3" x2="707.6" y2="588.9" stroke="#d3deec" stroke-width="2" opacity="0.79"/>
<line x1="633.5" y1="629.7" x2="634.7" y2="562.9" stroke="#ffffff" stroke-width="2" opacity="0.52"/>
<line x1="647.6" y1="633.4" x2="698.3" y2="556.9" stroke="#ffffff" stroke-width="1.6" opacity="0.65"/>
<line x1="636.4" y1="632.6" x2="644.5" y2="578.2" stroke="#f6f9fc" stroke-width="2.6" opacity="0.85"/>
<line x1="633.6" y1="663.1" x2="639.8" y2="744.8" stroke="#dde6f1" stroke-width="2" opacity="0.52"/>
<line x1="638.5" y1="663.7" x2="683.8" y2="731.3" stroke="#d3deec" stroke-width="1.2" opacity="0.52"/>
<line x1="629.4" y1="662.2" x2="570.2" y2="773.2" stroke="#dde6f1" stroke-width="0.8" opacity="0.52"/>
<line x1="628.7" y1="649.0" x2="589.3" y2="588.7" stroke="#ffffff" stroke-width="1.2" opacity="0.78"/>
<line x1="625.8" y1="658.6" x2="530.7" y2="699.8" stroke="#ffffff" stroke-width="1.2" opacity="0.54"/>
<line x1="632.0" y1="656.4" x2="559.7" y2="717.4" stroke="#c9d6e6" stroke-width="1.6" opacity="0.76"/>
<line x1="607.7" y1="655.4" x2="532.9" y2="655.2" stroke="#ffffff" stroke-width="1.2" opacity="0.72"/>
<line x1="608.5" y1="672.2" x2="526.4" y2="728.2" stroke="#f6f9fc" stroke-width="2.6" opacity="0.71"/>
<line x1="632.9" y1="638.7" x2="632.5" y2="570.6" stroke="#dde6f1" stroke-width="2.6" opacity="0.85"/>
<line x1="637.2" y1="627.8" x2="651.9" y2="531.5" stroke="#dde6f1" stroke-width="1" opacity="0.74"/>
<line x1="621.0" y1="659.1" x2="526.8" y2="687.2" stroke="#ffffff" stroke-width="1.6" opacity="0.56"/>
<line x1="609.9" y1="672.2" x2="568.1" y2="702.6" stroke="#c9d6e6" stroke-width="1.6" opacity="0.67"/>
<line x1="667.1" y1="659.7" x2="735.9" y2="668.3" stroke="#dde6f1" stroke-width="1" opacity="0.85"/>
<line x1="632.8" y1="655.9" x2="574.6" y2="764.9" stroke="#ffffff" stroke-width="0.8" opacity="0.56"/>
<line x1="638.7" y1="683.6" x2="659.4" y2="784.7" stroke="#ffffff" stroke-width="2" opacity="0.61"/>
<line x1="643.5" y1="640.5" x2="680.8" y2="587.2" stroke="#f6f9fc" stroke-width="2" opacity="0.46"/>
<line x1="636.9" y1="641.2" x2="657.4" y2="566.5" stroke="#dde6f1" stroke-width="1.6" opacity="0.54"/>
<line x1="626.7" y1="641.1" x2="585.1" y2="546.0" stroke="#ffffff" stroke-width="2.6" opacity="0.89"/>
<line x1="631.6" y1="657.3" x2="579.0" y2="724.7" stroke="#f6f9fc" stroke-width="0.8" opacity="0.46"/>
<line x1="618.3" y1="663.7" x2="532.4" y2="712.0" stroke="#ffffff" stroke-width="2" opacity="0.57"/>
<line x1="637.7" y1="684.8" x2="654.0" y2="784.9" stroke="#d3deec" stroke-width="1" opacity="0.90"/>
<line x1="650.9" y1="651.0" x2="711.3" y2="635.9" stroke="#c9d6e6" stroke-width="0.8" opacity="0.81"/>
<line x1="620.5" y1="641.5" x2="562.2" y2="575.9" stroke="#ffffff" stroke-width="1" opacity="0.61"/>
<line x1="611.9" y1="630.4" x2="553.8" y2="561.3" stroke="#f6f9fc" stroke-width="1.2" opacity="0.79"/>
<line x1="614.6" y1="630.3" x2="573.7" y2="574.3" stroke="#c9d6e6" stroke-width="1" opacity="0.57"/>
<line x1="625.8" y1="662.6" x2="563.4" y2="724.1" stroke="#ffffff" stroke-width="1.6" opacity="0.45"/>
<line x1="631.0" y1="644.4" x2="617.8" y2="570.9" stroke="#ffffff" stroke-width="1.2" opacity="0.67"/>
<line x1="610.0" y1="666.6" x2="531.3" y2="704.5" stroke="#ffffff" stroke-width="1" opacity="0.87"/>
<line x1="634.4" y1="653.7" x2="708.5" y2="557.4" stroke="#ffffff" stroke-width="1" opacity="0.69"/>
<line x1="619.9" y1="674.8" x2="569.6" y2="748.7" stroke="#ffffff" stroke-width="0.8" opacity="0.75"/>
<line x1="633.0" y1="659.6" x2="633.0" y2="734.8" stroke="#ffffff" stroke-width="1" opacity="0.80"/>
<line x1="629.5" y1="660.5" x2="559.7" y2="761.3" stroke="#c9d6e6" stroke-width="2" opacity="0.53"/>
<line x1="651.9" y1="640.1" x2="726.6" y2="579.2" stroke="#dde6f1" stroke-width="2" opacity="0.80"/>
<line x1="637.2" y1="648.8" x2="693.9" y2="557.9" stroke="#d3deec" stroke-width="0.8" opacity="0.78"/>
<line x1="600.3" y1="668.8" x2="534.7" y2="695.4" stroke="#ffffff" stroke-width="1.6" opacity="0.56"/>
<line x1="645.6" y1="670.6" x2="680.3" y2="712.2" stroke="#f6f9fc" stroke-width="1" opacity="0.77"/>
<line x1="633.1" y1="662.1" x2="635.4" y2="764.4" stroke="#dde6f1" stroke-width="0.8" opacity="0.52"/>
<line x1="621.0" y1="680.6" x2="589.0" y2="747.9" stroke="#ffffff" stroke-width="1.6" opacity="0.62"/>
<line x1="599.5" y1="674.3" x2="567.6" y2="692.1" stroke="#dde6f1" stroke-width="1.2" opacity="0.74"/>
<line x1="657.0" y1="659.8" x2="745.5" y2="675.9" stroke="#ffffff" stroke-width="0.8" opacity="0.68"/>
<line x1="597.3" y1="659.0" x2="561.1" y2="662.4" stroke="#dde6f1" stroke-width="1.6" opacity="0.73"/>
<line x1="614.8" y1="684.8" x2="583.4" y2="735.1" stroke="#f6f9fc" stroke-width="2" opacity="0.70"/>
<line x1="642.7" y1="649.6" x2="711.6" y2="607.2" stroke="#ffffff" stroke-width="2" opacity="0.47"/>
<line x1="629.5" y1="669.3" x2="608.1" y2="754.5" stroke="#ffffff" stroke-width="2" opacity="0.89"/>
<line x1="642.6" y1="645.6" x2="691.1" y2="595.9" stroke="#f6f9fc" stroke-width="0.8" opacity="0.60"/>
<line x1="628.1" y1="666.4" x2="588.8" y2="754.2" stroke="#dde6f1" stroke-width="0.8" opacity="0.80"/>
<line x1="661.0" y1="662.7" x2="756.5" y2="687.3" stroke="#d3deec" stroke-width="2" opacity="0.47"/>
<line x1="632.9" y1="655.7" x2="607.4" y2="733.8" stroke="#f6f9fc" stroke-width="2" opacity="0.79"/>
<line x1="651.6" y1="662.9" x2="730.9" y2="694.4" stroke="#f6f9fc" stroke-width="2" opacity="0.52"/>
<line x1="620.3" y1="631.0" x2="574.4" y2="542.9" stroke="#ffffff" stroke-width="1" opacity="0.47"/>
<line x1="616.3" y1="636.9" x2="578.7" y2="595.0" stroke="#dde6f1" stroke-width="1" opacity="0.84"/>
<line x1="629.5" y1="657.4" x2="518.0" y2="717.2" stroke="#ffffff" stroke-width="1.2" opacity="0.84"/>
<line x1="641.0" y1="665.0" x2="707.8" y2="744.4" stroke="#c9d6e6" stroke-width="1.2" opacity="0.53"/>
<line x1="633.8" y1="655.7" x2="737.3" y2="678.3" stroke="#d3deec" stroke-width="0.8" opacity="0.67"/>
<line x1="600.3" y1="650.9" x2="513.9" y2="638.8" stroke="#f6f9fc" stroke-width="2" opacity="0.76"/>
<line x1="630.8" y1="657.0" x2="538.7" y2="719.9" stroke="#d3deec" stroke-width="2" opacity="0.90"/>
<line x1="629.7" y1="650.3" x2="568.3" y2="554.4" stroke="#d3deec" stroke-width="0.8" opacity="0.49"/>
<line x1="597.7" y1="661.7" x2="523.9" y2="674.8" stroke="#f6f9fc" stroke-width="0.8" opacity="0.45"/>
<line x1="613.8" y1="621.0" x2="572.0" y2="545.5" stroke="#ffffff" stroke-width="0.8" opacity="0.51"/>
<line x1="661.6" y1="658.7" x2="718.2" y2="665.1" stroke="#dde6f1" stroke-width="2.6" opacity="0.53"/>
<line x1="662.4" y1="665.1" x2="743.7" y2="691.6" stroke="#c9d6e6" stroke-width="1" opacity="0.78"/>
<line x1="654.7" y1="668.2" x2="733.2" y2="714.2" stroke="#f6f9fc" stroke-width="2.6" opacity="0.87"/>
<line x1="632.0" y1="694.1" x2="630.0" y2="772.1" stroke="#ffffff" stroke-width="0.8" opacity="0.46"/>
<line x1="613.9" y1="629.0" x2="589.1" y2="594.5" stroke="#ffffff" stroke-width="1.2" opacity="0.78"/>
<line x1="650.3" y1="685.3" x2="684.2" y2="743.3" stroke="#ffffff" stroke-width="1.2" opacity="0.62"/>
<line x1="617.4" y1="647.5" x2="531.4" y2="603.8" stroke="#ffffff" stroke-width="0.8" opacity="0.61"/>
<line x1="617.5" y1="635.6" x2="573.4" y2="578.8" stroke="#f6f9fc" stroke-width="1.6" opacity="0.88"/>
<line x1="637.9" y1="633.4" x2="652.2" y2="568.6" stroke="#ffffff" stroke-width="2" opacity="0.89"/>
<line x1="623.4" y1="623.8" x2="606.5" y2="567.8" stroke="#d3deec" stroke-width="2.6" opacity="0.89"/>
<line x1="644.8" y1="634.5" x2="677.0" y2="576.9" stroke="#f6f9fc" stroke-width="1" opacity="0.62"/>
<line x1="623.4" y1="633.4" x2="581.9" y2="537.9" stroke="#c9d6e6" stroke-width="1.6" opacity="0.58"/>
<line x1="643.5" y1="655.6" x2="730.5" y2="656.5" stroke="#d3deec" stroke-width="0.8" opacity="0.58"/>
<line x1="655.6" y1="683.0" x2="718.3" y2="759.5" stroke="#ffffff" stroke-width="1.2" opacity="0.89"/>
<line x1="639.4" y1="634.5" x2="668.3" y2="540.3" stroke="#f6f9fc" stroke-width="1.2" opacity="0.69"/>
<line x1="614.2" y1="650.7" x2="541.2" y2="631.9" stroke="#c9d6e6" stroke-width="2.6" opacity="0.87"/>
<line x1="635.4" y1="679.7" x2="644.4" y2="769.0" stroke="#f6f9fc" stroke-width="2.6" opacity="0.54"/>
<line x1="632.1" y1="685.5" x2="629.4" y2="776.9" stroke="#f6f9fc" stroke-width="2" opacity="0.49"/>
<line x1="643.7" y1="626.5" x2="662.6" y2="575.7" stroke="#d3deec" stroke-width="2" opacity="0.85"/>
<line x1="648.7" y1="641.7" x2="708.8" y2="588.8" stroke="#d3deec" stroke-width="1" opacity="0.54"/>
<line x1="635.6" y1="662.3" x2="674.0" y2="763.6" stroke="#ffffff" stroke-width="2" opacity="0.70"/>
<line x1="616.1" y1="667.4" x2="567.8" y2="701.3" stroke="#ffffff" stroke-width="1.6" opacity="0.62"/>
<line x1="652.9" y1="671.2" x2="728.2" y2="730.4" stroke="#ffffff" stroke-width="1.2" opacity="0.72"/>
<line x1="759.8" y1="655.1" x2="770.5" y2="655.1" stroke="#8ea6c6" stroke-width="1.5" opacity="0.49"/>
<line x1="755.5" y1="657.7" x2="770.5" y2="658.0" stroke="#ffffff" stroke-width="1.5" opacity="0.67"/>
<line x1="762.7" y1="661.9" x2="770.3" y2="662.3" stroke="#5f7fab" stroke-width="1.5" opacity="0.58"/>
<line x1="760.4" y1="663.7" x2="770.2" y2="664.4" stroke="#ffffff" stroke-width="1.5" opacity="0.82"/>
<line x1="762.2" y1="669.2" x2="769.7" y2="670.0" stroke="#8ea6c6" stroke-width="1.5" opacity="0.60"/>
<line x1="760.4" y1="672.2" x2="769.3" y2="673.4" stroke="#8ea6c6" stroke-width="1.5" opacity="0.47"/>
<line x1="754.2" y1="673.3" x2="769.0" y2="675.5" stroke="#c3d2e4" stroke-width="1.5" opacity="0.67"/>
<line x1="753.4" y1="676.9" x2="768.4" y2="679.6" stroke="#5f7fab" stroke-width="1.5" opacity="0.72"/>
<line x1="762.2" y1="680.5" x2="768.0" y2="681.6" stroke="#8ea6c6" stroke-width="1.5" opacity="0.57"/>
<line x1="755.3" y1="682.7" x2="767.2" y2="685.3" stroke="#b7c7dc" stroke-width="1.5" opacity="0.68"/>
<line x1="752.4" y1="684.1" x2="766.7" y2="687.6" stroke="#6f8db5" stroke-width="1.5" opacity="0.88"/>
<line x1="758.4" y1="691.0" x2="765.3" y2="692.9" stroke="#8ea6c6" stroke-width="1.5" opacity="0.87"/>
<line x1="759.4" y1="694.4" x2="764.4" y2="696.0" stroke="#ffffff" stroke-width="1.5" opacity="0.86"/>
<line x1="758.7" y1="697.3" x2="763.5" y2="698.9" stroke="#5f7fab" stroke-width="1.5" opacity="0.68"/>
<line x1="749.6" y1="697.2" x2="762.5" y2="701.8" stroke="#c3d2e4" stroke-width="1.5" opacity="0.48"/>
<line x1="749.2" y1="698.6" x2="761.9" y2="703.3" stroke="#a9bdd6" stroke-width="1.5" opacity="0.75"/>
<line x1="749.8" y1="702.5" x2="760.6" y2="706.8" stroke="#5f7fab" stroke-width="1.5" opacity="0.74"/>
<line x1="750.9" y1="706.8" x2="759.1" y2="710.3" stroke="#c3d2e4" stroke-width="1.5" opacity="0.51"/>
<line x1="751.8" y1="710.6" x2="757.7" y2="713.4" stroke="#a9bdd6" stroke-width="1.5" opacity="0.81"/>
<line x1="742.2" y1="710.6" x2="755.7" y2="717.5" stroke="#c3d2e4" stroke-width="1.5" opacity="0.77"/>
<line x1="750.8" y1="716.4" x2="755.1" y2="718.7" stroke="#5f7fab" stroke-width="1.5" opacity="0.55"/>
<line x1="739.6" y1="716.0" x2="752.6" y2="723.4" stroke="#b7c7dc" stroke-width="1.5" opacity="0.51"/>
<line x1="746.7" y1="722.2" x2="751.6" y2="725.1" stroke="#c3d2e4" stroke-width="1.5" opacity="0.83"/>
<line x1="741.2" y1="723.1" x2="749.6" y2="728.4" stroke="#6f8db5" stroke-width="1.5" opacity="0.60"/>
<line x1="743.5" y1="727.0" x2="748.4" y2="730.2" stroke="#6f8db5" stroke-width="1.5" opacity="0.51"/>
<line x1="742.3" y1="730.1" x2="746.6" y2="733.0" stroke="#b7c7dc" stroke-width="1.5" opacity="0.65"/>
<line x1="735.7" y1="731.4" x2="743.6" y2="737.2" stroke="#a9bdd6" stroke-width="1.5" opacity="0.57"/>
<line x1="737.3" y1="734.9" x2="742.4" y2="738.8" stroke="#6f8db5" stroke-width="1.5" opacity="0.71"/>
<line x1="729.5" y1="732.3" x2="740.6" y2="741.2" stroke="#6f8db5" stroke-width="1.5" opacity="0.67"/>
<line x1="726.7" y1="733.9" x2="738.4" y2="743.8" stroke="#8ea6c6" stroke-width="1.5" opacity="0.52"/>
<line x1="726.9" y1="738.7" x2="735.9" y2="746.7" stroke="#5f7fab" stroke-width="1.5" opacity="0.75"/>
<line x1="726.7" y1="741.6" x2="734.2" y2="748.6" stroke="#6f8db5" stroke-width="1.5" opacity="0.50"/>
<line x1="719.4" y1="740.7" x2="730.9" y2="752.0" stroke="#c3d2e4" stroke-width="1.5" opacity="0.90"/>
<line x1="717.3" y1="743.6" x2="728.1" y2="754.8" stroke="#8ea6c6" stroke-width="1.5" opacity="0.63"/>
<line x1="722.4" y1="751.3" x2="726.8" y2="756.0" stroke="#5f7fab" stroke-width="1.5" opacity="0.78"/>
<line x1="713.8" y1="745.9" x2="724.6" y2="758.0" stroke="#8ea6c6" stroke-width="1.5" opacity="0.65"/>
<line x1="714.8" y1="752.5" x2="721.6" y2="760.6" stroke="#c3d2e4" stroke-width="1.5" opacity="0.45"/>
<line x1="711.7" y1="754.8" x2="718.4" y2="763.3" stroke="#a9bdd6" stroke-width="1.5" opacity="0.61"/>
<line x1="711.7" y1="756.6" x2="717.5" y2="764.0" stroke="#6f8db5" stroke-width="1.5" opacity="0.71"/>
<line x1="710.7" y1="760.8" x2="714.6" y2="766.2" stroke="#5f7fab" stroke-width="1.5" opacity="0.55"/>
<line x1="705.1" y1="758.6" x2="711.8" y2="768.2" stroke="#5f7fab" stroke-width="1.5" opacity="0.49"/>
<line x1="702.4" y1="761.9" x2="708.1" y2="770.7" stroke="#6f8db5" stroke-width="1.5" opacity="0.53"/>
<line x1="699.7" y1="761.2" x2="706.4" y2="771.8" stroke="#b7c7dc" stroke-width="1.5" opacity="0.82"/>
<line x1="699.0" y1="768.2" x2="702.5" y2="774.1" stroke="#8ea6c6" stroke-width="1.5" opacity="0.76"/>
<line x1="692.7" y1="762.9" x2="699.8" y2="775.7" stroke="#8ea6c6" stroke-width="1.5" opacity="0.68"/>
<line x1="693.6" y1="770.1" x2="697.3" y2="777.1" stroke="#b7c7dc" stroke-width="1.5" opacity="0.84"/>
<line x1="691.9" y1="774.6" x2="694.0" y2="778.8" stroke="#5f7fab" stroke-width="1.5" opacity="0.66"/>
<line x1="686.8" y1="773.6" x2="690.0" y2="780.6" stroke="#a9bdd6" stroke-width="1.5" opacity="0.70"/>
<line x1="684.8" y1="777.5" x2="686.7" y2="782.1" stroke="#b7c7dc" stroke-width="1.5" opacity="0.62"/>
<line x1="682.9" y1="778.7" x2="684.6" y2="782.9" stroke="#ffffff" stroke-width="1.5" opacity="0.87"/>
<line x1="678.7" y1="779.5" x2="680.6" y2="784.5" stroke="#6f8db5" stroke-width="1.5" opacity="0.77"/>
<line x1="673.0" y1="771.4" x2="677.8" y2="785.5" stroke="#6f8db5" stroke-width="1.5" opacity="0.80"/>
<line x1="671.1" y1="775.7" x2="674.5" y2="786.6" stroke="#8ea6c6" stroke-width="1.5" opacity="0.58"/>
<line x1="669.5" y1="774.3" x2="673.4" y2="786.9" stroke="#c3d2e4" stroke-width="1.5" opacity="0.68"/>
<line x1="666.2" y1="777.6" x2="669.0" y2="788.2" stroke="#8ea6c6" stroke-width="1.5" opacity="0.56"/>
<line x1="664.1" y1="777.2" x2="667.0" y2="788.7" stroke="#a9bdd6" stroke-width="1.5" opacity="0.50"/>
<line x1="660.2" y1="775.7" x2="663.3" y2="789.6" stroke="#8ea6c6" stroke-width="1.5" opacity="0.46"/>
<line x1="655.8" y1="777.5" x2="658.3" y2="790.7" stroke="#6f8db5" stroke-width="1.5" opacity="0.46"/>
<line x1="654.0" y1="779.8" x2="655.9" y2="791.1" stroke="#ffffff" stroke-width="1.5" opacity="0.56"/>
<line x1="651.8" y1="782.9" x2="653.0" y2="791.5" stroke="#8ea6c6" stroke-width="1.5" opacity="0.77"/>
<line x1="650.0" y1="785.9" x2="650.8" y2="791.8" stroke="#c3d2e4" stroke-width="1.5" opacity="0.71"/>
<line x1="645.0" y1="786.6" x2="645.6" y2="792.4" stroke="#8ea6c6" stroke-width="1.5" opacity="0.63"/>
<line x1="643.0" y1="781.0" x2="644.0" y2="792.6" stroke="#5f7fab" stroke-width="1.5" opacity="0.55"/>
<line x1="638.7" y1="782.8" x2="639.2" y2="792.9" stroke="#c3d2e4" stroke-width="1.5" opacity="0.52"/>
<line x1="635.1" y1="777.2" x2="635.4" y2="793.0" stroke="#c3d2e4" stroke-width="1.5" opacity="0.76"/>
<line x1="632.8" y1="781.3" x2="632.7" y2="793.0" stroke="#8ea6c6" stroke-width="1.5" opacity="0.63"/>
<line x1="628.9" y1="779.1" x2="628.5" y2="792.9" stroke="#6f8db5" stroke-width="1.5" opacity="0.63"/>
<line x1="626.1" y1="779.7" x2="625.4" y2="792.8" stroke="#5f7fab" stroke-width="1.5" opacity="0.89"/>
<line x1="623.4" y1="777.2" x2="622.2" y2="792.6" stroke="#5f7fab" stroke-width="1.5" opacity="0.63"/>
<line x1="620.4" y1="784.0" x2="619.6" y2="792.3" stroke="#a9bdd6" stroke-width="1.5" opacity="0.88"/>
<line x1="616.2" y1="784.4" x2="615.2" y2="791.8" stroke="#c3d2e4" stroke-width="1.5" opacity="0.75"/>
<line x1="615.2" y1="786.0" x2="614.5" y2="791.7" stroke="#a9bdd6" stroke-width="1.5" opacity="0.48"/>
<line x1="611.8" y1="780.7" x2="610.0" y2="791.1" stroke="#8ea6c6" stroke-width="1.5" opacity="0.55"/>
<line x1="608.6" y1="781.4" x2="606.8" y2="790.5" stroke="#c3d2e4" stroke-width="1.5" opacity="0.73"/>
<line x1="605.9" y1="774.8" x2="602.5" y2="789.6" stroke="#8ea6c6" stroke-width="1.5" opacity="0.47"/>
<line x1="601.6" y1="781.5" x2="599.7" y2="788.9" stroke="#b7c7dc" stroke-width="1.5" opacity="0.73"/>
<line x1="600.3" y1="774.4" x2="596.5" y2="788.1" stroke="#8ea6c6" stroke-width="1.5" opacity="0.73"/>
<line x1="597.4" y1="777.1" x2="594.3" y2="787.5" stroke="#c3d2e4" stroke-width="1.5" opacity="0.56"/>
<line x1="593.5" y1="781.1" x2="591.7" y2="786.7" stroke="#6f8db5" stroke-width="1.5" opacity="0.74"/>
<line x1="592.1" y1="774.5" x2="588.3" y2="785.5" stroke="#ffffff" stroke-width="1.5" opacity="0.86"/>
<line x1="589.3" y1="773.6" x2="585.3" y2="784.5" stroke="#a9bdd6" stroke-width="1.5" opacity="0.65"/>
<line x1="586.8" y1="768.8" x2="581.1" y2="782.8" stroke="#c3d2e4" stroke-width="1.5" opacity="0.71"/>
<line x1="583.9" y1="769.6" x2="578.7" y2="781.8" stroke="#b7c7dc" stroke-width="1.5" opacity="0.70"/>
<line x1="579.3" y1="769.1" x2="574.2" y2="779.8" stroke="#ffffff" stroke-width="1.5" opacity="0.55"/>
<line x1="577.2" y1="769.0" x2="572.3" y2="778.9" stroke="#6f8db5" stroke-width="1.5" opacity="0.66"/>
<line x1="574.5" y1="766.7" x2="569.0" y2="777.2" stroke="#c3d2e4" stroke-width="1.5" opacity="0.82"/>
<line x1="571.4" y1="768.8" x2="567.3" y2="776.3" stroke="#a9bdd6" stroke-width="1.5" opacity="0.68"/>
<line x1="569.4" y1="764.2" x2="563.6" y2="774.2" stroke="#8ea6c6" stroke-width="1.5" opacity="0.87"/>
<line x1="569.6" y1="759.2" x2="561.2" y2="772.8" stroke="#6f8db5" stroke-width="1.5" opacity="0.70"/>
<line x1="562.0" y1="763.9" x2="557.7" y2="770.5" stroke="#a9bdd6" stroke-width="1.5" opacity="0.58"/>
<line x1="557.9" y1="763.0" x2="554.3" y2="768.2" stroke="#8ea6c6" stroke-width="1.5" opacity="0.72"/>
<line x1="559.8" y1="756.9" x2="552.5" y2="767.0" stroke="#ffffff" stroke-width="1.5" opacity="0.62"/>
<line x1="557.7" y1="754.3" x2="549.6" y2="764.9" stroke="#8ea6c6" stroke-width="1.5" opacity="0.68"/>
<line x1="553.9" y1="752.1" x2="545.9" y2="761.9" stroke="#a9bdd6" stroke-width="1.5" opacity="0.64"/>
<line x1="548.0" y1="755.6" x2="544.0" y2="760.3" stroke="#a9bdd6" stroke-width="1.5" opacity="0.73"/>
<line x1="550.7" y1="747.1" x2="541.1" y2="757.8" stroke="#ffffff" stroke-width="1.5" opacity="0.49"/>
<line x1="549.3" y1="744.2" x2="538.6" y2="755.5" stroke="#c3d2e4" stroke-width="1.5" opacity="0.57"/>
<line x1="545.2" y1="745.0" x2="536.7" y2="753.6" stroke="#b7c7dc" stroke-width="1.5" opacity="0.51"/>
<line x1="537.2" y1="747.7" x2="533.9" y2="750.8" stroke="#5f7fab" stroke-width="1.5" opacity="0.70"/>
<line x1="539.8" y1="743.5" x2="533.0" y2="749.9" stroke="#ffffff" stroke-width="1.5" opacity="0.52"/>
<line x1="535.4" y1="740.8" x2="529.4" y2="746.0" stroke="#ffffff" stroke-width="1.5" opacity="0.72"/>
<line x1="535.7" y1="738.0" x2="528.1" y2="744.4" stroke="#c3d2e4" stroke-width="1.5" opacity="0.58"/>
<line x1="532.8" y1="736.4" x2="526.0" y2="741.9" stroke="#ffffff" stroke-width="1.5" opacity="0.70"/>
<line x1="530.6" y1="734.1" x2="523.9" y2="739.2" stroke="#5f7fab" stroke-width="1.5" opacity="0.79"/>
<line x1="528.4" y1="730.0" x2="521.0" y2="735.2" stroke="#6f8db5" stroke-width="1.5" opacity="0.53"/>
<line x1="525.3" y1="730.5" x2="520.1" y2="734.1" stroke="#ffffff" stroke-width="1.5" opacity="0.62"/>
<line x1="530.4" y1="723.5" x2="518.4" y2="731.5" stroke="#6f8db5" stroke-width="1.5" opacity="0.60"/>
<line x1="528.1" y1="719.7" x2="515.7" y2="727.2" stroke="#6f8db5" stroke-width="1.5" opacity="0.54"/>
<line x1="527.9" y1="717.5" x2="514.6" y2="725.4" stroke="#8ea6c6" stroke-width="1.5" opacity="0.46"/>
<line x1="526.4" y1="715.4" x2="513.2" y2="722.9" stroke="#6f8db5" stroke-width="1.5" opacity="0.86"/>
<line x1="520.6" y1="713.7" x2="510.9" y2="718.7" stroke="#c3d2e4" stroke-width="1.5" opacity="0.68"/>
<line x1="521.1" y1="710.8" x2="509.7" y2="716.4" stroke="#c3d2e4" stroke-width="1.5" opacity="0.66"/>
<line x1="520.2" y1="709.2" x2="508.8" y2="714.6" stroke="#c3d2e4" stroke-width="1.5" opacity="0.88"/>
<line x1="516.7" y1="705.7" x2="506.7" y2="710.0" stroke="#8ea6c6" stroke-width="1.5" opacity="0.63"/>
<line x1="517.0" y1="702.7" x2="505.7" y2="707.3" stroke="#ffffff" stroke-width="1.5" opacity="0.52"/>
<line x1="513.7" y1="701.6" x2="504.7" y2="705.1" stroke="#c3d2e4" stroke-width="1.5" opacity="0.65"/>
<line x1="518.7" y1="695.4" x2="503.2" y2="700.8" stroke="#6f8db5" stroke-width="1.5" opacity="0.76"/>
<line x1="507.4" y1="695.6" x2="502.0" y2="697.3" stroke="#6f8db5" stroke-width="1.5" opacity="0.59"/>
<line x1="514.7" y1="689.6" x2="500.9" y2="693.6" stroke="#ffffff" stroke-width="1.5" opacity="0.53"/>
<line x1="508.0" y1="689.1" x2="500.2" y2="691.2" stroke="#6f8db5" stroke-width="1.5" opacity="0.82"/>
<line x1="513.9" y1="683.6" x2="499.2" y2="687.1" stroke="#c3d2e4" stroke-width="1.5" opacity="0.73"/>
<line x1="512.7" y1="682.0" x2="498.7" y2="685.1" stroke="#a9bdd6" stroke-width="1.5" opacity="0.68"/>
<line x1="504.8" y1="681.4" x2="498.2" y2="682.8" stroke="#b7c7dc" stroke-width="1.5" opacity="0.70"/>
<line x1="508.8" y1="677.7" x2="497.6" y2="679.7" stroke="#b7c7dc" stroke-width="1.5" opacity="0.74"/>
<line x1="506.5" y1="675.2" x2="497.1" y2="676.6" stroke="#5f7fab" stroke-width="1.5" opacity="0.45"/>
<line x1="507.5" y1="670.2" x2="496.4" y2="671.5" stroke="#6f8db5" stroke-width="1.5" opacity="0.63"/>
<line x1="500.9" y1="669.4" x2="496.3" y2="669.9" stroke="#8ea6c6" stroke-width="1.5" opacity="0.54"/>
<line x1="507.0" y1="664.7" x2="495.9" y2="665.5" stroke="#6f8db5" stroke-width="1.5" opacity="0.84"/>
<line x1="506.3" y1="660.6" x2="495.6" y2="661.1" stroke="#a9bdd6" stroke-width="1.5" opacity="0.71"/>
<line x1="501.5" y1="658.9" x2="495.5" y2="659.1" stroke="#a9bdd6" stroke-width="1.5" opacity="0.68"/>
<line x1="500.3" y1="655.5" x2="495.5" y2="655.5" stroke="#8ea6c6" stroke-width="1.5" opacity="0.53"/>
<line x1="509.9" y1="652.5" x2="495.5" y2="652.1" stroke="#ffffff" stroke-width="1.5" opacity="0.64"/>
<line x1="508.0" y1="648.7" x2="495.7" y2="648.0" stroke="#b7c7dc" stroke-width="1.5" opacity="0.80"/>
<line x1="508.9" y1="646.9" x2="495.8" y2="646.0" stroke="#6f8db5" stroke-width="1.5" opacity="0.57"/>
<line x1="508.0" y1="644.6" x2="496.0" y2="643.5" stroke="#5f7fab" stroke-width="1.5" opacity="0.86"/>
<line x1="505.2" y1="639.8" x2="496.5" y2="638.7" stroke="#c3d2e4" stroke-width="1.5" opacity="0.73"/>
<line x1="503.8" y1="637.9" x2="496.8" y2="636.9" stroke="#c3d2e4" stroke-width="1.5" opacity="0.71"/>
<line x1="507.3" y1="632.8" x2="497.7" y2="631.1" stroke="#ffffff" stroke-width="1.5" opacity="0.56"/>
<line x1="504.2" y1="631.0" x2="497.9" y2="629.8" stroke="#ffffff" stroke-width="1.5" opacity="0.83"/>
<line x1="513.6" y1="629.6" x2="498.6" y2="626.3" stroke="#5f7fab" stroke-width="1.5" opacity="0.65"/>
<line x1="506.7" y1="624.6" x2="499.4" y2="622.8" stroke="#c3d2e4" stroke-width="1.5" opacity="0.89"/>
<line x1="512.2" y1="623.7" x2="500.0" y2="620.5" stroke="#b7c7dc" stroke-width="1.5" opacity="0.77"/>
<line x1="508.9" y1="619.2" x2="501.0" y2="616.9" stroke="#b7c7dc" stroke-width="1.5" opacity="0.67"/>
<line x1="509.5" y1="614.6" x2="502.5" y2="612.2" stroke="#a9bdd6" stroke-width="1.5" opacity="0.53"/>
<line x1="507.5" y1="611.7" x2="503.2" y2="610.2" stroke="#6f8db5" stroke-width="1.5" opacity="0.63"/>
<line x1="512.3" y1="610.1" x2="504.3" y2="607.1" stroke="#5f7fab" stroke-width="1.5" opacity="0.62"/>
<line x1="510.4" y1="605.9" x2="505.6" y2="603.9" stroke="#8ea6c6" stroke-width="1.5" opacity="0.64"/>
<line x1="517.6" y1="604.1" x2="507.4" y2="599.5" stroke="#c3d2e4" stroke-width="1.5" opacity="0.54"/>
<line x1="514.7" y1="601.2" x2="508.1" y2="598.1" stroke="#8ea6c6" stroke-width="1.5" opacity="0.58"/>
<line x1="521.9" y1="601.9" x2="509.2" y2="595.7" stroke="#a9bdd6" stroke-width="1.5" opacity="0.77"/>
<line x1="517.6" y1="596.1" x2="510.7" y2="592.6" stroke="#5f7fab" stroke-width="1.5" opacity="0.80"/>
<line x1="521.7" y1="593.5" x2="512.9" y2="588.5" stroke="#5f7fab" stroke-width="1.5" opacity="0.81"/>
<line x1="521.6" y1="591.0" x2="514.0" y2="586.6" stroke="#b7c7dc" stroke-width="1.5" opacity="0.63"/>
<line x1="526.1" y1="588.7" x2="516.4" y2="582.6" stroke="#6f8db5" stroke-width="1.5" opacity="0.88"/>
<line x1="524.0" y1="584.1" x2="518.0" y2="580.1" stroke="#c3d2e4" stroke-width="1.5" opacity="0.75"/>
<line x1="534.0" y1="585.9" x2="520.5" y2="576.4" stroke="#ffffff" stroke-width="1.5" opacity="0.85"/>
<line x1="529.1" y1="579.7" x2="521.9" y2="574.5" stroke="#a9bdd6" stroke-width="1.5" opacity="0.63"/>
<line x1="528.5" y1="575.6" x2="523.8" y2="572.0" stroke="#5f7fab" stroke-width="1.5" opacity="0.51"/>
<line x1="534.4" y1="576.3" x2="525.8" y2="569.4" stroke="#6f8db5" stroke-width="1.5" opacity="0.78"/>
<line x1="532.1" y1="569.4" x2="528.4" y2="566.3" stroke="#b7c7dc" stroke-width="1.5" opacity="0.71"/>
<line x1="536.6" y1="570.8" x2="529.7" y2="564.7" stroke="#8ea6c6" stroke-width="1.5" opacity="0.76"/>
<line x1="538.1" y1="566.3" x2="532.8" y2="561.3" stroke="#a9bdd6" stroke-width="1.5" opacity="0.75"/>
<line x1="542.0" y1="568.0" x2="533.9" y2="560.2" stroke="#6f8db5" stroke-width="1.5" opacity="0.81"/>
<line x1="542.2" y1="561.5" x2="537.5" y2="556.6" stroke="#b7c7dc" stroke-width="1.5" opacity="0.59"/>
<line x1="542.9" y1="559.7" x2="538.8" y2="555.3" stroke="#b7c7dc" stroke-width="1.5" opacity="0.63"/>
<line x1="551.3" y1="563.8" x2="541.5" y2="552.8" stroke="#c3d2e4" stroke-width="1.5" opacity="0.80"/>
<line x1="554.6" y1="561.1" x2="545.1" y2="549.7" stroke="#a9bdd6" stroke-width="1.5" opacity="0.87"/>
<line x1="551.8" y1="555.8" x2="546.2" y2="548.9" stroke="#5f7fab" stroke-width="1.5" opacity="0.75"/>
<line x1="555.0" y1="554.0" x2="549.2" y2="546.5" stroke="#b7c7dc" stroke-width="1.5" opacity="0.77"/>
<line x1="561.8" y1="557.7" x2="552.1" y2="544.3" stroke="#c3d2e4" stroke-width="1.5" opacity="0.61"/>
<line x1="559.0" y1="547.6" x2="555.2" y2="542.1" stroke="#8ea6c6" stroke-width="1.5" opacity="0.57"/>
<line x1="561.8" y1="546.3" x2="557.9" y2="540.3" stroke="#b7c7dc" stroke-width="1.5" opacity="0.47"/>
<line x1="562.8" y1="544.8" x2="559.4" y2="539.4" stroke="#a9bdd6" stroke-width="1.5" opacity="0.79"/>
<line x1="569.3" y1="548.9" x2="562.5" y2="537.5" stroke="#ffffff" stroke-width="1.5" opacity="0.59"/>
<line x1="569.7" y1="541.0" x2="566.5" y2="535.1" stroke="#5f7fab" stroke-width="1.5" opacity="0.55"/>
<line x1="574.1" y1="543.3" x2="569.1" y2="533.8" stroke="#c3d2e4" stroke-width="1.5" opacity="0.75"/>
<line x1="579.2" y1="546.3" x2="572.2" y2="532.1" stroke="#8ea6c6" stroke-width="1.5" opacity="0.83"/>
<line x1="579.1" y1="537.7" x2="575.7" y2="530.5" stroke="#8ea6c6" stroke-width="1.5" opacity="0.84"/>
<line x1="583.4" y1="541.1" x2="578.3" y2="529.3" stroke="#a9bdd6" stroke-width="1.5" opacity="0.76"/>
<line x1="583.2" y1="536.3" x2="580.0" y2="528.6" stroke="#5f7fab" stroke-width="1.5" opacity="0.86"/>
<line x1="586.8" y1="531.9" x2="584.9" y2="526.7" stroke="#b7c7dc" stroke-width="1.5" opacity="0.78"/>
<line x1="592.5" y1="536.6" x2="588.7" y2="525.3" stroke="#a9bdd6" stroke-width="1.5" opacity="0.58"/>
<line x1="594.5" y1="540.1" x2="589.4" y2="525.1" stroke="#c3d2e4" stroke-width="1.5" opacity="0.65"/>
<line x1="596.3" y1="534.0" x2="593.3" y2="523.9" stroke="#b7c7dc" stroke-width="1.5" opacity="0.82"/>
<line x1="599.8" y1="532.3" x2="597.2" y2="522.7" stroke="#8ea6c6" stroke-width="1.5" opacity="0.75"/>
<line x1="602.4" y1="534.4" x2="599.3" y2="522.2" stroke="#5f7fab" stroke-width="1.5" opacity="0.87"/>
<line x1="605.4" y1="534.8" x2="602.3" y2="521.5" stroke="#8ea6c6" stroke-width="1.5" opacity="0.88"/>
<line x1="609.5" y1="531.4" x2="607.5" y2="520.4" stroke="#a9bdd6" stroke-width="1.5" opacity="0.70"/>
<line x1="613.1" y1="531.7" x2="611.1" y2="519.8" stroke="#ffffff" stroke-width="1.5" opacity="0.57"/>
<line x1="615.3" y1="525.7" x2="614.4" y2="519.3" stroke="#6f8db5" stroke-width="1.5" opacity="0.64"/>
<line x1="616.7" y1="527.3" x2="615.6" y2="519.1" stroke="#a9bdd6" stroke-width="1.5" opacity="0.76"/>
<line x1="620.7" y1="528.9" x2="619.7" y2="518.6" stroke="#b7c7dc" stroke-width="1.5" opacity="0.56"/>
<line x1="623.8" y1="528.2" x2="623.1" y2="518.4" stroke="#b7c7dc" stroke-width="1.5" opacity="0.61"/>
<line x1="626.6" y1="533.3" x2="625.8" y2="518.2" stroke="#a9bdd6" stroke-width="1.5" opacity="0.71"/>
<line x1="629.3" y1="530.1" x2="629.0" y2="518.1" stroke="#8ea6c6" stroke-width="1.5" opacity="0.70"/>
<line x1="633.7" y1="524.5" x2="633.7" y2="518.0" stroke="#b7c7dc" stroke-width="1.5" opacity="0.52"/>
<line x1="637.1" y1="532.6" x2="637.6" y2="518.1" stroke="#c3d2e4" stroke-width="1.5" opacity="0.82"/>
<line x1="638.3" y1="526.1" x2="638.6" y2="518.1" stroke="#6f8db5" stroke-width="1.5" opacity="0.67"/>
<line x1="640.7" y1="533.5" x2="641.7" y2="518.3" stroke="#6f8db5" stroke-width="1.5" opacity="0.54"/>
<line x1="645.8" y1="528.5" x2="646.8" y2="518.7" stroke="#8ea6c6" stroke-width="1.5" opacity="0.52"/>
<line x1="648.1" y1="530.2" x2="649.4" y2="519.0" stroke="#6f8db5" stroke-width="1.5" opacity="0.53"/>
<line x1="651.1" y1="523.9" x2="651.7" y2="519.3" stroke="#5f7fab" stroke-width="1.5" opacity="0.67"/>
<line x1="655.4" y1="528.4" x2="656.8" y2="520.1" stroke="#b7c7dc" stroke-width="1.5" opacity="0.70"/>
<line x1="656.4" y1="530.5" x2="658.4" y2="520.4" stroke="#c3d2e4" stroke-width="1.5" opacity="0.67"/>
<line x1="661.6" y1="529.6" x2="663.4" y2="521.4" stroke="#6f8db5" stroke-width="1.5" opacity="0.86"/>
<line x1="663.4" y1="533.8" x2="666.3" y2="522.1" stroke="#b7c7dc" stroke-width="1.5" opacity="0.74"/>
<line x1="666.5" y1="529.9" x2="668.5" y2="522.7" stroke="#a9bdd6" stroke-width="1.5" opacity="0.79"/>
<line x1="668.5" y1="532.3" x2="671.1" y2="523.4" stroke="#a9bdd6" stroke-width="1.5" opacity="0.58"/>
<line x1="671.0" y1="536.1" x2="674.7" y2="524.5" stroke="#5f7fab" stroke-width="1.5" opacity="0.85"/>
<line x1="677.2" y1="531.4" x2="679.1" y2="526.0" stroke="#b7c7dc" stroke-width="1.5" opacity="0.82"/>
<line x1="679.4" y1="535.0" x2="682.4" y2="527.2" stroke="#a9bdd6" stroke-width="1.5" opacity="0.74"/>
<line x1="681.8" y1="534.7" x2="684.5" y2="528.0" stroke="#a9bdd6" stroke-width="1.5" opacity="0.70"/>
<line x1="681.8" y1="542.6" x2="687.6" y2="529.3" stroke="#a9bdd6" stroke-width="1.5" opacity="0.48"/>
<line x1="684.1" y1="543.2" x2="690.0" y2="530.4" stroke="#5f7fab" stroke-width="1.5" opacity="0.90"/>
<line x1="691.4" y1="536.7" x2="693.7" y2="532.1" stroke="#a9bdd6" stroke-width="1.5" opacity="0.67"/>
<line x1="693.9" y1="539.4" x2="696.9" y2="533.7" stroke="#6f8db5" stroke-width="1.5" opacity="0.72"/>
<line x1="697.1" y1="540.9" x2="700.1" y2="535.5" stroke="#a9bdd6" stroke-width="1.5" opacity="0.52"/>
<line x1="694.4" y1="550.8" x2="702.6" y2="536.9" stroke="#8ea6c6" stroke-width="1.5" opacity="0.89"/>
<line x1="700.9" y1="547.9" x2="706.4" y2="539.2" stroke="#a9bdd6" stroke-width="1.5" opacity="0.78"/>
<line x1="699.3" y1="552.0" x2="707.2" y2="539.7" stroke="#5f7fab" stroke-width="1.5" opacity="0.83"/>
<line x1="707.6" y1="547.5" x2="711.1" y2="542.4" stroke="#8ea6c6" stroke-width="1.5" opacity="0.75"/>
<line x1="708.2" y1="552.0" x2="713.9" y2="544.3" stroke="#6f8db5" stroke-width="1.5" opacity="0.48"/>
<line x1="705.8" y1="558.2" x2="715.4" y2="545.4" stroke="#a9bdd6" stroke-width="1.5" opacity="0.86"/>
<line x1="713.4" y1="554.0" x2="718.4" y2="547.7" stroke="#c3d2e4" stroke-width="1.5" opacity="0.81"/>
<line x1="714.7" y1="559.3" x2="722.0" y2="550.7" stroke="#c3d2e4" stroke-width="1.5" opacity="0.49"/>
<line x1="717.2" y1="559.8" x2="723.8" y2="552.3" stroke="#ffffff" stroke-width="1.5" opacity="0.86"/>
<line x1="716.3" y1="567.3" x2="727.4" y2="555.5" stroke="#ffffff" stroke-width="1.5" opacity="0.73"/>
<line x1="726.0" y1="561.4" x2="729.7" y2="557.7" stroke="#b7c7dc" stroke-width="1.5" opacity="0.60"/>
<line x1="723.6" y1="567.6" x2="731.7" y2="559.8" stroke="#c3d2e4" stroke-width="1.5" opacity="0.88"/>
<line x1="724.7" y1="570.2" x2="733.7" y2="561.8" stroke="#6f8db5" stroke-width="1.5" opacity="0.84"/>
<line x1="726.9" y1="572.4" x2="736.0" y2="564.4" stroke="#5f7fab" stroke-width="1.5" opacity="0.53"/>
<line x1="730.8" y1="573.5" x2="738.4" y2="567.2" stroke="#8ea6c6" stroke-width="1.5" opacity="0.52"/>
<line x1="731.6" y1="576.5" x2="740.3" y2="569.6" stroke="#c3d2e4" stroke-width="1.5" opacity="0.61"/>
<line x1="734.1" y1="577.4" x2="741.8" y2="571.4" stroke="#6f8db5" stroke-width="1.5" opacity="0.50"/>
<line x1="731.5" y1="583.0" x2="743.7" y2="574.0" stroke="#ffffff" stroke-width="1.5" opacity="0.79"/>
<line x1="733.8" y1="585.1" x2="745.7" y2="576.8" stroke="#b7c7dc" stroke-width="1.5" opacity="0.49"/>
<line x1="741.8" y1="584.3" x2="748.1" y2="580.2" stroke="#c3d2e4" stroke-width="1.5" opacity="0.55"/>
<line x1="740.4" y1="588.7" x2="749.7" y2="582.9" stroke="#b7c7dc" stroke-width="1.5" opacity="0.50"/>
<line x1="741.6" y1="591.7" x2="751.5" y2="585.8" stroke="#8ea6c6" stroke-width="1.5" opacity="0.83"/>
<line x1="741.1" y1="595.9" x2="753.4" y2="589.1" stroke="#a9bdd6" stroke-width="1.5" opacity="0.84"/>
<line x1="743.2" y1="597.8" x2="754.8" y2="591.7" stroke="#5f7fab" stroke-width="1.5" opacity="0.88"/>
<line x1="742.0" y1="601.9" x2="756.4" y2="594.9" stroke="#ffffff" stroke-width="1.5" opacity="0.50"/>
<line x1="749.7" y1="602.2" x2="758.1" y2="598.4" stroke="#a9bdd6" stroke-width="1.5" opacity="0.89"/>
<line x1="749.4" y1="603.9" x2="758.7" y2="599.8" stroke="#8ea6c6" stroke-width="1.5" opacity="0.51"/>
<line x1="755.8" y1="606.3" x2="760.6" y2="604.4" stroke="#a9bdd6" stroke-width="1.5" opacity="0.47"/>
<line x1="749.1" y1="610.3" x2="761.1" y2="605.6" stroke="#a9bdd6" stroke-width="1.5" opacity="0.66"/>
<line x1="756.6" y1="611.0" x2="762.4" y2="608.9" stroke="#8ea6c6" stroke-width="1.5" opacity="0.73"/>
<line x1="753.4" y1="617.4" x2="764.1" y2="614.0" stroke="#b7c7dc" stroke-width="1.5" opacity="0.84"/>
<line x1="751.6" y1="619.2" x2="764.5" y2="615.3" stroke="#6f8db5" stroke-width="1.5" opacity="0.81"/>
<line x1="761.4" y1="621.2" x2="765.8" y2="620.0" stroke="#6f8db5" stroke-width="1.5" opacity="0.51"/>
<line x1="753.5" y1="625.5" x2="766.4" y2="622.3" stroke="#6f8db5" stroke-width="1.5" opacity="0.77"/>
<line x1="755.5" y1="627.2" x2="767.0" y2="624.6" stroke="#8ea6c6" stroke-width="1.5" opacity="0.61"/>
<line x1="756.3" y1="630.9" x2="767.8" y2="628.6" stroke="#8ea6c6" stroke-width="1.5" opacity="0.87"/>
<line x1="761.2" y1="634.1" x2="768.6" y2="632.8" stroke="#a9bdd6" stroke-width="1.5" opacity="0.76"/>
<line x1="752.7" y1="636.9" x2="768.9" y2="634.3" stroke="#c3d2e4" stroke-width="1.5" opacity="0.50"/>
<line x1="763.6" y1="638.4" x2="769.3" y2="637.6" stroke="#5f7fab" stroke-width="1.5" opacity="0.57"/>
<line x1="754.2" y1="642.9" x2="769.8" y2="641.3" stroke="#5f7fab" stroke-width="1.5" opacity="0.76"/>
<line x1="763.9" y1="645.7" x2="770.1" y2="645.2" stroke="#6f8db5" stroke-width="1.5" opacity="0.69"/>
<line x1="756.2" y1="650.0" x2="770.4" y2="649.4" stroke="#c3d2e4" stroke-width="1.5" opacity="0.46"/>
<line x1="764.1" y1="651.9" x2="770.4" y2="651.7" stroke="#ffffff" stroke-width="1.5" opacity="0.67"/>
</g>
<g transform="rotate(0 674.5 516.3)">
<ellipse cx="676.5" cy="520.3" rx="147" ry="52" fill="#8a8f96" opacity="0.25" filter="url(#sh)"/>
<ellipse cx="674.5" cy="516.3" rx="147" ry="52" fill="url(#ell)"/>
</g>
<g transform="rotate(2 489.5 664.5)">
<ellipse cx="491.5" cy="668.5" rx="124" ry="52" fill="#8a8f96" opacity="0.25" filter="url(#sh)"/>
<ellipse cx="489.5" cy="664.5" rx="124" ry="52" fill="url(#ell)"/>
</g>
<g transform="rotate(0 768.3 707.5)">
<ellipse cx="770.3" cy="711.5" rx="138" ry="51" fill="#8a8f96" opacity="0.25" filter="url(#sh)"/>
<ellipse cx="768.3" cy="707.5" rx="138" ry="51" fill="url(#ell)"/>
</g>
<path d="M548.4 543.3 A140.5 140.5 0 0 0 499.4 612.1" fill="none" stroke="#17375e" stroke-width="5.4"/>
<polygon points="495.4,624.4 490.6,605.0 499.1,613.0 510.6,611.5" fill="#17375e"/>
<path d="M506.7 717.1 A140.5 140.5 0 0 0 727.0 759.9" fill="none" stroke="#17375e" stroke-width="5.4"/>
<polygon points="736.7,751.2 731.1,770.4 727.8,759.2 717.0,754.8" fill="#17375e"/>
<path d="M773.5 655.5 A140.5 140.5 0 0 0 739.0 563.3" fill="none" stroke="#17375e" stroke-width="5.4"/>
<polygon points="730.5,553.5 749.6,559.5 738.4,562.6 733.7,573.2" fill="#17375e"/>
<ellipse cx="569" cy="517.7" rx="8" ry="10" fill="url(#tg)"/>
<ellipse cx="681" cy="556" rx="8.5" ry="8" fill="url(#og)"/>
<text x="591.5" y="526.7" font-size="29.5" font-weight="bold" textLength="169.0" lengthAdjust="spacingAndGlyphs">Metabolites</text>
<g transform="translate(391.7 660) rotate(20) scale(1.0)"><path d="M-11 2 q-5 3 -3 7" fill="none" stroke="#3b52d6" stroke-width="1.3"/><ellipse rx="12" ry="6.5" fill="#2c41cf"/><ellipse cx="-2" cy="-2" rx="7" ry="2.5" fill="#5a72ee" opacity="0.6"/></g>
<path d="M448.8 636.3 q-3 2 -3.5 5 q-1 3 -4 1.5" fill="none" stroke="#a88a5a" stroke-width="1.8" stroke-linecap="round"/>
<polygon points="463.9,632.5 461.8,633.7 462.9,635.3 460.3,635.7 460.3,637.6 457.7,637.2 456.6,638.9 454.5,637.7 452.4,638.9 451.3,637.2 448.7,637.6 448.7,635.7 446.1,635.3 447.2,633.7 445.1,632.5 447.2,631.3 446.1,629.7 448.7,629.3 448.7,627.4 451.3,627.8 452.4,626.1 454.5,627.3 456.6,626.1 457.7,627.8 460.3,627.4 460.3,629.3 462.9,629.7 461.8,631.3" fill="#96140f"/>
<ellipse cx="453.5" cy="631.0" rx="4.3" ry="2.4" fill="#c43a2e" opacity="0.45"/>
<rect x="531.0" y="636.8" width="15" height="7.5" rx="3.4" fill="#f58220" transform="rotate(-62 538.5 640.5)"/>
<ellipse cx="585" cy="666" rx="5.5" ry="17" fill="#a3195b" transform="rotate(-3 585 666)"/>
<g transform="translate(448 696) scale(0.9)"><path d="M3 -4 q5 -5 9 -2 M-3 4 q-4 6 2 8 M4 4 q5 4 3 8" fill="none" stroke="#c27a45" stroke-width="1.6" stroke-linecap="round"/><circle r="6" fill="#cf7d4c"/><circle cx="-1.5" cy="-1.5" r="3" fill="#e39a6a" opacity="0.7"/></g>
<ellipse cx="485" cy="707" rx="7" ry="10" fill="url(#rg)"/>
<ellipse cx="532.3" cy="697.3" rx="9.5" ry="7.5" fill="#bdebf5" stroke="#3fb0cb" stroke-width="1.5"/>
<text x="425.5" y="674" font-size="29.5" font-weight="bold" textLength="127.5" lengthAdjust="spacingAndGlyphs">Microbes</text>
<polygon points="648.3,687.0 637.3,710.0 659.3,710.0" fill="url(#rt)" stroke="#8c1c1f" stroke-width="1.5" stroke-linejoin="round"/>
<polygon points="676.7,697.0 664.2,723.0 689.2,723.0" fill="url(#bt)"/>
<polygon points="875,678.0 863.0,703.0 887.0,703.0" fill="url(#lt)" stroke="#3fb0cb" stroke-width="1.5" stroke-linejoin="round"/>
<polygon points="850,706.5 836.5,733.5 863.5,733.5" fill="url(#gt)"/>
<text x="696.5" y="695" font-size="29.5" font-weight="bold" textLength="144.5" lengthAdjust="spacingAndGlyphs">Genes and</text>
<text x="711.5" y="733.5" font-size="29.5" font-weight="bold" textLength="115.5" lengthAdjust="spacingAndGlyphs">proteins</text>
<rect x="557.5" y="246" width="142.5" height="72" fill="url(#gutbox)" stroke="#1d1d1d" stroke-width="2"/>
<text x="598.5" y="296.7" font-size="34.5" font-weight="bold" textLength="64.5" lengthAdjust="spacingAndGlyphs">Gut</text>
<rect x="1563.5" y="218" width="224" height="814.5" fill="#fbdcd7"/>
<path d="M1435.5 218 L1436 280 L1437.5 330 L1442.5 407 L1447.8 461 L1456.3 525 L1466 589 L1478.7 653 L1489 700 L1497 745 L1502 785 L1504 800 L1510 800 L1510 218Z" fill="url(#muc)"/>
<rect x="1503" y="780" width="8" height="252" fill="#e9eeee" opacity="0.8"/>
<rect x="1505.5" y="218" width="58.5" height="322" fill="#bfecf7"/>
<rect x="1508" y="540" width="56" height="260" fill="#f9dcc3"/>
<rect x="1508" y="800" width="56" height="232.5" fill="#f9d0cb"/>
<rect x="1520" y="219.0" width="43" height="33.8" rx="9" fill="#c6f0fa" stroke="#4d9db8" stroke-width="1.7" stroke-dasharray="5 3"/>
<path d="M1523 222.0 L1511 222.8 L1521 224.8 L1512.5 226.3 L1523 228.9 L1511 229.8 L1521 231.7 L1512.5 233.3 L1523 235.9 L1511 236.7 L1521 238.7 L1512.5 240.2 L1523 242.8 L1511 243.7 L1521 245.6 L1512.5 247.2 L1523 249.8" fill="none" stroke="#36c6e6" stroke-width="2.2" stroke-linejoin="round" opacity="0.9"/>
<ellipse cx="1544.3" cy="233.5" rx="7.8" ry="10.2" fill="url(#ng)"/>
<rect x="1520" y="255.2" width="43" height="38.6" rx="9" fill="#c6f0fa" stroke="#4d9db8" stroke-width="1.7" stroke-dasharray="5 3"/>
<path d="M1523 258.2 L1511 259.2 L1521 261.5 L1512.5 263.3 L1523 266.3 L1511 267.3 L1521 269.6 L1512.5 271.4 L1523 274.5 L1511 275.5 L1521 277.8 L1512.5 279.6 L1523 282.6 L1511 283.6 L1521 285.9 L1512.5 287.7 L1523 290.8" fill="none" stroke="#36c6e6" stroke-width="2.2" stroke-linejoin="round" opacity="0.9"/>
<ellipse cx="1544.3" cy="274.5" rx="7.8" ry="10.2" fill="url(#ng)"/>
<rect x="1520" y="296.2" width="43" height="38.6" rx="9" fill="#c6f0fa" stroke="#4d9db8" stroke-width="1.7" stroke-dasharray="5 3"/>
<path d="M1523 299.2 L1511 300.2 L1521 302.5 L1512.5 304.3 L1523 307.3 L1511 308.3 L1521 310.6 L1512.5 312.4 L1523 315.5 L1511 316.5 L1521 318.8 L1512.5 320.6 L1523 323.6 L1511 324.6 L1521 326.9 L1512.5 328.7 L1523 331.8" fill="none" stroke="#36c6e6" stroke-width="2.2" stroke-linejoin="round" opacity="0.9"/>
<ellipse cx="1544.3" cy="315.5" rx="7.8" ry="10.2" fill="url(#ng)"/>
<rect x="1520" y="337.2" width="43" height="38.6" rx="9" fill="#c6f0fa" stroke="#4d9db8" stroke-width="1.7" stroke-dasharray="5 3"/>
<path d="M1523 340.2 L1511 341.2 L1521 343.5 L1512.5 345.3 L1523 348.3 L1511 349.3 L1521 351.6 L1512.5 353.4 L1523 356.5 L1511 357.5 L1521 359.8 L1512.5 361.6 L1523 364.6 L1511 365.6 L1521 367.9 L1512.5 369.7 L1523 372.8" fill="none" stroke="#36c6e6" stroke-width="2.2" stroke-linejoin="round" opacity="0.9"/>
<ellipse cx="1544.3" cy="356.5" rx="7.8" ry="10.2" fill="url(#ng)"/>
<rect x="1520" y="378.2" width="43" height="38.6" rx="9" fill="#c6f0fa" stroke="#4d9db8" stroke-width="1.7" stroke-dasharray="5 3"/>
<path d="M1523 381.2 L1511 382.2 L1521 384.5 L1512.5 386.3 L1523 389.3 L1511 390.3 L1521 392.6 L1512.5 394.4 L1523 397.5 L1511 398.5 L1521 400.8 L1512.5 402.6 L1523 405.6 L1511 406.6 L1521 408.9 L1512.5 410.7 L1523 413.8" fill="none" stroke="#36c6e6" stroke-width="2.2" stroke-linejoin="round" opacity="0.9"/>
<ellipse cx="1544.3" cy="397.5" rx="7.8" ry="10.2" fill="url(#ng)"/>
<rect x="1520" y="419.2" width="43" height="38.6" rx="9" fill="#c6f0fa" stroke="#4d9db8" stroke-width="1.7" stroke-dasharray="5 3"/>
<path d="M1523 422.2 L1511 423.2 L1521 425.5 L1512.5 427.3 L1523 430.3 L1511 431.3 L1521 433.6 L1512.5 435.4 L1523 438.5 L1511 439.5 L1521 441.8 L1512.5 443.6 L1523 446.6 L1511 447.6 L1521 449.9 L1512.5 451.7 L1523 454.8" fill="none" stroke="#36c6e6" stroke-width="2.2" stroke-linejoin="round" opacity="0.9"/>
<ellipse cx="1544.3" cy="438.5" rx="7.8" ry="10.2" fill="url(#ng)"/>
<rect x="1520" y="460.2" width="43" height="38.6" rx="9" fill="#c6f0fa" stroke="#4d9db8" stroke-width="1.7" stroke-dasharray="5 3"/>
<path d="M1523 463.2 L1511 464.2 L1521 466.5 L1512.5 468.3 L1523 471.3 L1511 472.3 L1521 474.6 L1512.5 476.4 L1523 479.5 L1511 480.5 L1521 482.8 L1512.5 484.6 L1523 487.6 L1511 488.6 L1521 490.9 L1512.5 492.7 L1523 495.8" fill="none" stroke="#36c6e6" stroke-width="2.2" stroke-linejoin="round" opacity="0.9"/>
<ellipse cx="1544.3" cy="479.5" rx="7.8" ry="10.2" fill="url(#ng)"/>
<rect x="1520" y="501.2" width="43" height="38.6" rx="9" fill="#c6f0fa" stroke="#4d9db8" stroke-width="1.7" stroke-dasharray="5 3"/>
<path d="M1523 504.2 L1511 505.2 L1521 507.5 L1512.5 509.3 L1523 512.4 L1511 513.3 L1521 515.6 L1512.5 517.4 L1523 520.5 L1511 521.5 L1521 523.8 L1512.5 525.6 L1523 528.6 L1511 529.6 L1521 531.9 L1512.5 533.7 L1523 536.8" fill="none" stroke="#36c6e6" stroke-width="2.2" stroke-linejoin="round" opacity="0.9"/>
<ellipse cx="1544.3" cy="520.5" rx="7.8" ry="10.2" fill="url(#ng)"/>
<rect x="1520" y="542.2" width="43" height="38.6" rx="9" fill="#fbe1c9" stroke="#e2b183" stroke-width="1.7" stroke-dasharray="5 3"/>
<path d="M1523 545.2 L1511 546.2 L1521 548.5 L1512.5 550.3 L1523 553.4 L1511 554.3 L1521 556.6 L1512.5 558.4 L1523 561.5 L1511 562.5 L1521 564.8 L1512.5 566.6 L1523 569.6 L1511 570.6 L1521 572.9 L1512.5 574.7 L1523 577.8" fill="none" stroke="#f3a54c" stroke-width="2.2" stroke-linejoin="round" opacity="0.9"/>
<ellipse cx="1544.3" cy="561.5" rx="7.8" ry="10.2" fill="url(#ng)"/>
<rect x="1520" y="583.2" width="43" height="38.6" rx="9" fill="#fbe1c9" stroke="#e2b183" stroke-width="1.7" stroke-dasharray="5 3"/>
<path d="M1523 586.2 L1511 587.2 L1521 589.5 L1512.5 591.3 L1523 594.4 L1511 595.3 L1521 597.6 L1512.5 599.4 L1523 602.5 L1511 603.5 L1521 605.8 L1512.5 607.6 L1523 610.6 L1511 611.6 L1521 613.9 L1512.5 615.7 L1523 618.8" fill="none" stroke="#f3a54c" stroke-width="2.2" stroke-linejoin="round" opacity="0.9"/>
<ellipse cx="1544.3" cy="602.5" rx="7.8" ry="10.2" fill="url(#ng)"/>
<rect x="1520" y="624.2" width="43" height="38.6" rx="9" fill="#fbe1c9" stroke="#e6a766" stroke-width="1.7"/>
<path d="M1523 627.2 L1511 628.2 L1521 630.5 L1512.5 632.3 L1523 635.4 L1511 636.3 L1521 638.6 L1512.5 640.4 L1523 643.5 L1511 644.5 L1521 646.8 L1512.5 648.6 L1523 651.6 L1511 652.6 L1521 654.9 L1512.5 656.7 L1523 659.8" fill="none" stroke="#f3a54c" stroke-width="2.2" stroke-linejoin="round" opacity="0.9"/>
<ellipse cx="1544.3" cy="643.5" rx="7.8" ry="10.2" fill="url(#ng)"/>
<rect x="1520" y="665.2" width="43" height="38.6" rx="9" fill="#fbe1c9" stroke="#e6a766" stroke-width="1.7"/>
<path d="M1523 668.2 L1511 669.2 L1521 671.5 L1512.5 673.3 L1523 676.4 L1511 677.3 L1521 679.6 L1512.5 681.4 L1523 684.5 L1511 685.5 L1521 687.8 L1512.5 689.6 L1523 692.6 L1511 693.6 L1521 695.9 L1512.5 697.7 L1523 700.8" fill="none" stroke="#f3a54c" stroke-width="2.2" stroke-linejoin="round" opacity="0.9"/>
<ellipse cx="1544.3" cy="684.5" rx="7.8" ry="10.2" fill="url(#ng)"/>
<rect x="1520" y="706.2" width="43" height="38.6" rx="9" fill="#fbe1c9" stroke="#e6a766" stroke-width="1.7"/>
<path d="M1523 709.2 L1511 710.2 L1521 712.5 L1512.5 714.3 L1523 717.4 L1511 718.3 L1521 720.6 L1512.5 722.4 L1523 725.5 L1511 726.5 L1521 728.8 L1512.5 730.6 L1523 733.6 L1511 734.6 L1521 736.9 L1512.5 738.7 L1523 741.8" fill="none" stroke="#f3a54c" stroke-width="2.2" stroke-linejoin="round" opacity="0.9"/>
<ellipse cx="1544.3" cy="725.5" rx="7.8" ry="10.2" fill="url(#ng)"/>
<rect x="1520" y="747.2" width="43" height="38.6" rx="9" fill="#fbe1c9" stroke="#e6a766" stroke-width="1.7"/>
<path d="M1523 750.2 L1511 751.2 L1521 753.5 L1512.5 755.3 L1523 758.4 L1511 759.3 L1521 761.6 L1512.5 763.4 L1523 766.5 L1511 767.5 L1521 769.8 L1512.5 771.6 L1523 774.6 L1511 775.6 L1521 777.9 L1512.5 779.7 L1523 782.8" fill="none" stroke="#f3a54c" stroke-width="2.2" stroke-linejoin="round" opacity="0.9"/>
<ellipse cx="1544.3" cy="766.5" rx="7.8" ry="10.2" fill="url(#ng)"/>
<rect x="1520" y="788.2" width="43" height="38.6" rx="9" fill="#f8c6c2" stroke="#d4555c" stroke-width="1.7"/>
<path d="M1522 791.2 h-9 q-4 1.8 0 3.7 h7 q3 1.6 0 3.3 h-9 q-4 1.8 0 3.7 h7 q3 1.6 0 3.3 h-9 q-4 1.8 0 3.7 h7 q3 1.6 0 3.3 h-9 q-4 1.8 0 3.7 h7 q3 1.6 0 3.3" fill="none" stroke="#dc5f63" stroke-width="1.9" stroke-linejoin="round"/>
<ellipse cx="1544.3" cy="807.5" rx="7.8" ry="10.2" fill="url(#ng)"/>
<rect x="1520" y="829.2" width="43" height="38.6" rx="9" fill="#f8c6c2" stroke="#d4555c" stroke-width="1.7"/>
<path d="M1522 832.2 h-9 q-4 1.8 0 3.7 h7 q3 1.6 0 3.3 h-9 q-4 1.8 0 3.7 h7 q3 1.6 0 3.3 h-9 q-4 1.8 0 3.7 h7 q3 1.6 0 3.3 h-9 q-4 1.8 0 3.7 h7 q3 1.6 0 3.3" fill="none" stroke="#dc5f63" stroke-width="1.9" stroke-linejoin="round"/>
<ellipse cx="1544.3" cy="848.5" rx="7.8" ry="10.2" fill="url(#ng)"/>
<rect x="1520" y="870.2" width="43" height="38.6" rx="9" fill="#f8c6c2" stroke="#d4555c" stroke-width="1.7"/>
<path d="M1522 873.2 h-9 q-4 1.8 0 3.7 h7 q3 1.6 0 3.3 h-9 q-4 1.8 0 3.7 h7 q3 1.6 0 3.3 h-9 q-4 1.8 0 3.7 h7 q3 1.6 0 3.3 h-9 q-4 1.8 0 3.7 h7 q3 1.6 0 3.3" fill="none" stroke="#dc5f63" stroke-width="1.9" stroke-linejoin="round"/>
<ellipse cx="1544.3" cy="889.5" rx="7.8" ry="10.2" fill="url(#ng)"/>
<rect x="1520" y="911.2" width="43" height="38.6" rx="9" fill="#f8c6c2" stroke="#d4555c" stroke-width="1.7"/>
<path d="M1522 914.2 h-9 q-4 1.8 0 3.7 h7 q3 1.6 0 3.3 h-9 q-4 1.8 0 3.7 h7 q3 1.6 0 3.3 h-9 q-4 1.8 0 3.7 h7 q3 1.6 0 3.3 h-9 q-4 1.8 0 3.7 h7 q3 1.6 0 3.3" fill="none" stroke="#dc5f63" stroke-width="1.9" stroke-linejoin="round"/>
<ellipse cx="1544.3" cy="930.5" rx="7.8" ry="10.2" fill="url(#ng)"/>
<rect x="1520" y="952.2" width="43" height="38.6" rx="9" fill="#f8c6c2" stroke="#d4555c" stroke-width="1.7"/>
<path d="M1522 955.2 h-9 q-4 1.8 0 3.7 h7 q3 1.6 0 3.3 h-9 q-4 1.8 0 3.7 h7 q3 1.6 0 3.3 h-9 q-4 1.8 0 3.7 h7 q3 1.6 0 3.3 h-9 q-4 1.8 0 3.7 h7 q3 1.6 0 3.3" fill="none" stroke="#dc5f63" stroke-width="1.9" stroke-linejoin="round"/>
<ellipse cx="1544.3" cy="971.5" rx="7.8" ry="10.2" fill="url(#ng)"/>
<rect x="1520" y="993.2" width="43" height="38.3" rx="9" fill="#f8c6c2" stroke="#d4555c" stroke-width="1.7"/>
<path d="M1522 996.2 h-9 q-4 1.8 0 3.6 h7 q3 1.6 0 3.2 h-9 q-4 1.8 0 3.6 h7 q3 1.6 0 3.2 h-9 q-4 1.8 0 3.6 h7 q3 1.6 0 3.2 h-9 q-4 1.8 0 3.6 h7 q3 1.6 0 3.2" fill="none" stroke="#dc5f63" stroke-width="1.9" stroke-linejoin="round"/>
<ellipse cx="1544.3" cy="1012.5" rx="7.8" ry="10.2" fill="url(#ng)"/>
<path d="M987.5 201.5 V178.5 H1151.5 V201.5" fill="none" stroke="#2a2a2a" stroke-width="2"/>
<path d="M1203.6 201.5 V180 H1300.5 V201.5" fill="none" stroke="#2a2a2a" stroke-width="2"/>
<path d="M1350 201.5 V180 H1473.3 V201.5" fill="none" stroke="#2a2a2a" stroke-width="2"/>
<line x1="1498.7" y1="127" x2="1498.7" y2="214.3" stroke="#2a2a2a" stroke-width="2"/>
<line x1="1563.1" y1="126.2" x2="1498.7" y2="214.3" stroke="#2a2a2a" stroke-width="2"/>
<line x1="1595.7" y1="186.9" x2="1556" y2="214.3" stroke="#2a2a2a" stroke-width="2"/>
<line x1="925" y1="529" x2="1435.5" y2="218.3" stroke="#2a2a2a" stroke-width="1.8"/>
<line x1="930" y1="878.3" x2="1506" y2="1023" stroke="#2a2a2a" stroke-width="1.8"/>
<line x1="965" y1="467.7" x2="996.7" y2="450" stroke="#2a2a2a" stroke-width="2"/>
<line x1="1335" y1="1009" x2="1387.4" y2="1021.5" stroke="#2a2a2a" stroke-width="2"/>
<line x1="1303.8" y1="263.7" x2="1324.6" y2="252.1" stroke="#2a2a2a" stroke-width="2.2"/>
<polygon points="1334.5,246.5 1321.8,262.8 1323.7,252.5 1314.0,248.8" fill="#111"/>
<line x1="986.4" y1="921.9" x2="949.6" y2="911.7" stroke="#2a2a2a" stroke-width="2.2"/>
<polygon points="938.6,908.6 959.0,906.0 950.5,911.9 954.8,921.4" fill="#111"/>
<path d="M1507.4 1058.4 V1041 L1613 1062.7" fill="none" stroke="#2a2a2a" stroke-width="2"/>
<text x="1045.1" y="126.4" font-size="24.5" stroke="#111" stroke-width="0.4" textLength="42.6" lengthAdjust="spacingAndGlyphs">Gut</text>
<text x="1000.5" y="162.2" font-size="24.5" stroke="#111" stroke-width="0.4" textLength="129.7" lengthAdjust="spacingAndGlyphs">microbiota</text>
<text x="1199.1" y="125.6" font-size="24.5" stroke="#111" stroke-width="0.4" textLength="101.9" lengthAdjust="spacingAndGlyphs">Genes &amp;</text>
<text x="1201.6" y="159.7" font-size="24.5" stroke="#111" stroke-width="0.4" textLength="97.6" lengthAdjust="spacingAndGlyphs">proteins</text>
<text x="1347.6" y="158.9" font-size="24.5" stroke="#111" stroke-width="0.4" textLength="144.4" lengthAdjust="spacingAndGlyphs">Metabolites</text>
<text x="1453.7" y="71.6" font-size="24.5" stroke="#111" stroke-width="0.4" textLength="94.8" lengthAdjust="spacingAndGlyphs">Mucous</text>
<text x="1472.1" y="105.7" font-size="24.5" stroke="#111" stroke-width="0.4" textLength="57.3" lengthAdjust="spacingAndGlyphs">layer</text>
<text x="1611" y="72.2" font-size="24.5" stroke="#111" stroke-width="0.4" textLength="200.5" lengthAdjust="spacingAndGlyphs">No inflammation</text>
<text x="1589.7" y="106.4" font-size="24.5" stroke="#111" stroke-width="0.4" textLength="241.1" lengthAdjust="spacingAndGlyphs">(healthy gut barrier)</text>
<text x="1599.8" y="181.7" font-size="24.5" stroke="#111" stroke-width="0.4" textLength="168.5" lengthAdjust="spacingAndGlyphs">Epithelial cells</text>
<text x="1294.5" y="335.4" font-size="22" stroke="#111" stroke-width="0.4" textLength="167.4" lengthAdjust="spacingAndGlyphs">Energy balance</text>
<text x="1293.9" y="364" font-size="22" stroke="#111" stroke-width="0.4" textLength="125.2" lengthAdjust="spacingAndGlyphs">gut motilily</text>
<text x="1294.3" y="752.4" font-size="22" stroke="#111" stroke-width="0.4" textLength="192.1" lengthAdjust="spacingAndGlyphs">Inflammatory tone</text>
<text x="1294.3" y="781.1" font-size="22" stroke="#111" stroke-width="0.4" textLength="172.1" lengthAdjust="spacingAndGlyphs">mucosa integrity</text>
<text x="1294.3" y="811" font-size="22" stroke="#111" stroke-width="0.4" textLength="197.3" lengthAdjust="spacingAndGlyphs">appetite regulation</text>
<text x="1294.3" y="839.8" font-size="22" stroke="#111" stroke-width="0.4" textLength="95.2" lengthAdjust="spacingAndGlyphs">signalling</text>
<text x="1437" y="1100.5" font-size="27" stroke="#111" stroke-width="0.4" textLength="144" lengthAdjust="spacingAndGlyphs">Unresolved</text>
<text x="1424.5" y="1134.5" font-size="27" stroke="#111" stroke-width="0.4" textLength="170.0" lengthAdjust="spacingAndGlyphs">inflammation</text>
<text x="1600.4" y="1099.5" font-size="27" stroke="#111" stroke-width="0.4" textLength="163.3" lengthAdjust="spacingAndGlyphs">Compromise</text>
<text x="1615" y="1134.5" font-size="27" stroke="#111" stroke-width="0.4" textLength="133.7" lengthAdjust="spacingAndGlyphs">gut barrier</text>
<text x="0" y="0" font-size="28" font-weight="bold" textLength="289" lengthAdjust="spacingAndGlyphs" transform="translate(1033 439) rotate(-31.3)">Bottom-up approach</text>
<text x="0" y="0" font-size="27.5" font-weight="bold" textLength="279" lengthAdjust="spacingAndGlyphs" transform="translate(1021.5 945.5) rotate(13.4)">Top-down approach</text>
<rect x="0" y="1090" width="1168" height="67" fill="#000"/>
<text x="424" y="1141" font-size="43" textLength="734" lengthAdjust="spacingAndGlyphs" style="fill:#fff">Moya &amp; Ferrer/Trends in Microbiology</text>
<line x1="1160.5" y1="493.0" x2="1199.3" y2="493.0" stroke="#2f6fb2" stroke-width="4"/>
<polygon points="1216.0,493.0 1189.0,504.0 1199.3,493.0 1189.0,482.0" fill="#2f6fb2"/>
<line x1="1153.0" y1="553.4" x2="1206.3" y2="520.3" stroke="#2f6fb2" stroke-width="4"/>
<polygon points="1220.5,511.5 1203.4,535.1 1206.3,520.3 1191.8,516.4" fill="#2f6fb2"/>
<line x1="1107.7" y1="704.7" x2="1200.5" y2="622.6" stroke="#8fd14f" stroke-width="4"/>
<polygon points="1213.0,611.5 1200.1,637.6 1200.5,622.6 1185.5,621.2" fill="#8fd14f"/>
<line x1="1105.6" y1="707.7" x2="1184.4" y2="716.0" stroke="#c00f12" stroke-width="4"/>
<polygon points="1201.0,717.8 1173.0,725.9 1184.4,716.0 1175.3,704.0" fill="#c00f12"/>
<line x1="1153.0" y1="789.0" x2="1197.2" y2="740.7" stroke="#c00f12" stroke-width="4"/>
<polygon points="1208.5,728.4 1198.4,755.7 1197.2,740.7 1182.2,740.9" fill="#c00f12"/>
<line x1="1321.6" y1="490.8" x2="1360.8" y2="490.8" stroke="#f7982c" stroke-width="4"/>
<polygon points="1377.5,490.8 1350.5,501.8 1360.8,490.8 1350.5,479.8" fill="#f7982c"/>
<line x1="1335.9" y1="568.5" x2="1363.9" y2="548.4" stroke="#f7982c" stroke-width="4"/>
<polygon points="1377.5,538.6 1362.0,563.3 1363.9,548.4 1349.2,545.4" fill="#f7982c"/>
<line x1="1326.8" y1="673.0" x2="1369.0" y2="636.0" stroke="#f7982c" stroke-width="4"/>
<polygon points="1381.6,625.0 1368.5,651.1 1369.0,636.0 1354.0,634.5" fill="#f7982c"/>
<line x1="1211.6" y1="907.4" x2="1242.8" y2="918.5" stroke="#9fd0df" stroke-width="6"/>
<polygon points="1257.5,923.8 1227.9,926.5 1242.8,918.5 1236.3,902.9" fill="#9fd0df"/>
<line x1="1359.6" y1="908.6" x2="1382.8" y2="908.2" stroke="#9fd0df" stroke-width="6"/>
<polygon points="1398.5,908.0 1371.7,920.9 1382.8,908.2 1371.3,895.9" fill="#9fd0df"/>
<polygon points="1259.0,408.6 1246.8,434.6 1271.2,434.6" fill="url(#bt)"/>
<polygon points="1239.5,434.5 1227.2,460.5 1251.8,460.5" fill="url(#bt)"/>
<polygon points="1294.4,434.5 1282.2,460.5 1306.7,460.5" fill="url(#bt)"/>
<polygon points="1266.8,447.5 1254.5,473.5 1279.0,473.5" fill="url(#bt)"/>
<polygon points="1238.7,475.6 1226.5,501.6 1251.0,501.6" fill="url(#bt)"/>
<polygon points="1272.0,490.7 1259.8,516.7 1284.2,516.7" fill="url(#bt)"/>
<polygon points="1238.7,534.9 1225.5,563.4 1252.0,563.4" fill="url(#gt)"/>
<polygon points="1269.8,549.1 1256.5,577.6 1283.0,577.6" fill="url(#gt)"/>
<polygon points="1297.0,534.9 1283.8,563.4 1310.2,563.4" fill="url(#gt)"/>
<polygon points="1247.3,580.2 1234.0,608.8 1260.5,608.8" fill="url(#gt)"/>
<polygon points="1271.1,575.9 1257.8,604.4 1284.3,604.4" fill="url(#gt)"/>
<polygon points="1310.0,578.0 1296.8,606.5 1323.2,606.5" fill="url(#gt)"/>
<polygon points="1287.9,596.6 1274.7,625.1 1301.2,625.1" fill="url(#gt)"/>
<polygon points="1251.6,665.6 1240.8,687.6 1262.3,687.6" fill="url(#rt)" stroke="#7d1518" stroke-width="1.6" stroke-linejoin="round"/>
<polygon points="1297.9,665.6 1287.2,687.6 1308.7,687.6" fill="url(#rt)" stroke="#7d1518" stroke-width="1.6" stroke-linejoin="round"/>
<polygon points="1226.6,687.2 1215.8,709.2 1237.3,709.2" fill="url(#rt)" stroke="#7d1518" stroke-width="1.6" stroke-linejoin="round"/>
<polygon points="1278.4,678.5 1267.7,700.5 1289.2,700.5" fill="url(#rt)" stroke="#7d1518" stroke-width="1.6" stroke-linejoin="round"/>
<polygon points="1308.7,698.0 1298.0,720.0 1319.5,720.0" fill="url(#rt)" stroke="#7d1518" stroke-width="1.6" stroke-linejoin="round"/>
<polygon points="1257.7,707.9 1247.0,729.9 1268.5,729.9" fill="url(#rt)" stroke="#7d1518" stroke-width="1.6" stroke-linejoin="round"/>
<polygon points="1278.4,707.9 1267.7,729.9 1289.2,729.9" fill="url(#rt)" stroke="#7d1518" stroke-width="1.6" stroke-linejoin="round"/>
<polygon points="1301.0,869.5 1289.2,894.0 1312.8,894.0" fill="url(#lt)" stroke="#45b3cd" stroke-width="1.6" stroke-linejoin="round"/>
<polygon points="1270.2,892.6 1258.5,917.1 1282.0,917.1" fill="url(#lt)" stroke="#45b3cd" stroke-width="1.6" stroke-linejoin="round"/>
<polygon points="1321.1,901.9 1309.3,926.4 1332.8,926.4" fill="url(#lt)" stroke="#45b3cd" stroke-width="1.6" stroke-linejoin="round"/>
<polygon points="1300.1,911.1 1288.3,935.6 1311.8,935.6" fill="url(#lt)" stroke="#45b3cd" stroke-width="1.6" stroke-linejoin="round"/>
<polygon points="1273.9,930.2 1262.2,954.8 1285.7,954.8" fill="url(#lt)" stroke="#45b3cd" stroke-width="1.6" stroke-linejoin="round"/>
<path d="M1016.9 487.1 q-3 2 -3.5 5 q-1 3 -4 1.5" fill="none" stroke="#a88a5a" stroke-width="1.8" stroke-linecap="round"/>
<polygon points="1035.1,482.5 1032.6,483.9 1034.0,485.9 1030.8,486.4 1030.9,488.7 1027.7,488.2 1026.3,490.2 1023.8,488.8 1021.3,490.2 1019.9,488.2 1016.7,488.7 1016.8,486.4 1013.6,485.9 1015.0,483.9 1012.5,482.5 1015.0,481.1 1013.6,479.1 1016.8,478.6 1016.7,476.3 1019.9,476.8 1021.3,474.8 1023.8,476.2 1026.3,474.8 1027.7,476.8 1030.9,476.3 1030.8,478.6 1034.0,479.1 1032.6,481.1" fill="#96140f"/>
<ellipse cx="1022.8" cy="481.0" rx="5.2" ry="2.9" fill="#c43a2e" opacity="0.45"/>
<path d="M1052.9 480.8 q-3 2 -3.5 5 q-1 3 -4 1.5" fill="none" stroke="#a88a5a" stroke-width="1.8" stroke-linecap="round"/>
<polygon points="1071.1,476.2 1068.6,477.6 1070.0,479.6 1066.8,480.1 1066.9,482.4 1063.7,481.9 1062.3,483.9 1059.8,482.5 1057.3,483.9 1055.9,481.9 1052.7,482.4 1052.8,480.1 1049.6,479.6 1051.0,477.6 1048.5,476.2 1051.0,474.8 1049.6,472.8 1052.8,472.3 1052.7,470.0 1055.9,470.5 1057.3,468.5 1059.8,469.9 1062.3,468.5 1063.7,470.5 1066.9,470.0 1066.8,472.3 1070.0,472.8 1068.6,474.8" fill="#96140f"/>
<ellipse cx="1058.8" cy="474.7" rx="5.2" ry="2.9" fill="#c43a2e" opacity="0.45"/>
<path d="M1088.8 479.7 q-3 2 -3.5 5 q-1 3 -4 1.5" fill="none" stroke="#a88a5a" stroke-width="1.8" stroke-linecap="round"/>
<polygon points="1107.0,475.1 1104.5,476.5 1105.9,478.5 1102.7,479.0 1102.8,481.3 1099.6,480.8 1098.2,482.8 1095.7,481.4 1093.2,482.8 1091.8,480.8 1088.6,481.3 1088.7,479.0 1085.5,478.5 1086.9,476.5 1084.4,475.1 1086.9,473.7 1085.5,471.7 1088.7,471.2 1088.6,468.9 1091.8,469.4 1093.2,467.4 1095.7,468.8 1098.2,467.4 1099.6,469.4 1102.8,468.9 1102.7,471.2 1105.9,471.7 1104.5,473.7" fill="#96140f"/>
<ellipse cx="1094.7" cy="473.6" rx="5.2" ry="2.9" fill="#c43a2e" opacity="0.45"/>
<path d="M1064.1 493.1 q-3 2 -3.5 5 q-1 3 -4 1.5" fill="none" stroke="#a88a5a" stroke-width="1.8" stroke-linecap="round"/>
<polygon points="1082.3,488.5 1079.8,489.9 1081.2,491.9 1078.0,492.4 1078.1,494.7 1074.9,494.2 1073.5,496.2 1071.0,494.8 1068.5,496.2 1067.1,494.2 1063.9,494.7 1064.0,492.4 1060.8,491.9 1062.2,489.9 1059.7,488.5 1062.2,487.1 1060.8,485.1 1064.0,484.6 1063.9,482.3 1067.1,482.8 1068.5,480.8 1071.0,482.2 1073.5,480.8 1074.9,482.8 1078.1,482.3 1078.0,484.6 1081.2,485.1 1079.8,487.1" fill="#96140f"/>
<ellipse cx="1070.0" cy="487.0" rx="5.2" ry="2.9" fill="#c43a2e" opacity="0.45"/>
<path d="M1046.1 503.3 q-3 2 -3.5 5 q-1 3 -4 1.5" fill="none" stroke="#a88a5a" stroke-width="1.8" stroke-linecap="round"/>
<polygon points="1064.3,498.7 1061.8,500.1 1063.2,502.1 1060.0,502.6 1060.1,504.9 1056.9,504.4 1055.5,506.4 1053.0,505.0 1050.5,506.4 1049.1,504.4 1045.9,504.9 1046.0,502.6 1042.8,502.1 1044.2,500.1 1041.7,498.7 1044.2,497.3 1042.8,495.3 1046.0,494.8 1045.9,492.5 1049.1,493.0 1050.5,491.0 1053.0,492.4 1055.5,491.0 1056.9,493.0 1060.1,492.5 1060.0,494.8 1063.2,495.3 1061.8,497.3" fill="#96140f"/>
<ellipse cx="1052.0" cy="497.2" rx="5.2" ry="2.9" fill="#c43a2e" opacity="0.45"/>
<path d="M1081.0 506.6 q-3 2 -3.5 5 q-1 3 -4 1.5" fill="none" stroke="#a88a5a" stroke-width="1.8" stroke-linecap="round"/>
<polygon points="1099.2,502.0 1096.7,503.4 1098.1,505.4 1094.9,505.9 1095.0,508.2 1091.8,507.7 1090.4,509.7 1087.9,508.3 1085.4,509.7 1084.0,507.7 1080.8,508.2 1080.9,505.9 1077.7,505.4 1079.1,503.4 1076.6,502.0 1079.1,500.6 1077.7,498.6 1080.9,498.1 1080.8,495.8 1084.0,496.3 1085.4,494.3 1087.9,495.7 1090.4,494.3 1091.8,496.3 1095.0,495.8 1094.9,498.1 1098.1,498.6 1096.7,500.6" fill="#96140f"/>
<ellipse cx="1086.9" cy="500.5" rx="5.2" ry="2.9" fill="#c43a2e" opacity="0.45"/>
<path d="M1063.0 514.5 q-3 2 -3.5 5 q-1 3 -4 1.5" fill="none" stroke="#a88a5a" stroke-width="1.8" stroke-linecap="round"/>
<polygon points="1081.2,509.9 1078.7,511.3 1080.1,513.3 1076.9,513.8 1077.0,516.1 1073.8,515.6 1072.4,517.6 1069.9,516.2 1067.4,517.6 1066.0,515.6 1062.8,516.1 1062.9,513.8 1059.7,513.3 1061.1,511.3 1058.6,509.9 1061.1,508.5 1059.7,506.5 1062.9,506.0 1062.8,503.7 1066.0,504.2 1067.4,502.2 1069.9,503.6 1072.4,502.2 1073.8,504.2 1077.0,503.7 1076.9,506.0 1080.1,506.5 1078.7,508.5" fill="#96140f"/>
<ellipse cx="1068.9" cy="508.4" rx="5.2" ry="2.9" fill="#c43a2e" opacity="0.45"/>
<path d="M994.4 524.6 q-3 2 -3.5 5 q-1 3 -4 1.5" fill="none" stroke="#a88a5a" stroke-width="1.8" stroke-linecap="round"/>
<polygon points="1012.6,520.0 1010.1,521.4 1011.5,523.4 1008.3,523.9 1008.4,526.2 1005.2,525.7 1003.8,527.7 1001.3,526.3 998.8,527.7 997.4,525.7 994.2,526.2 994.3,523.9 991.1,523.4 992.5,521.4 990.0,520.0 992.5,518.6 991.1,516.6 994.3,516.1 994.2,513.8 997.4,514.3 998.8,512.3 1001.3,513.7 1003.8,512.3 1005.2,514.3 1008.4,513.8 1008.3,516.1 1011.5,516.6 1010.1,518.6" fill="#96140f"/>
<ellipse cx="1000.3" cy="518.5" rx="5.2" ry="2.9" fill="#c43a2e" opacity="0.45"/>
<path d="M1040.5 530.2 q-3 2 -3.5 5 q-1 3 -4 1.5" fill="none" stroke="#a88a5a" stroke-width="1.8" stroke-linecap="round"/>
<polygon points="1058.7,525.6 1056.2,527.0 1057.6,529.0 1054.4,529.5 1054.5,531.8 1051.3,531.3 1049.9,533.3 1047.4,531.9 1044.9,533.3 1043.5,531.3 1040.3,531.8 1040.4,529.5 1037.2,529.0 1038.6,527.0 1036.1,525.6 1038.6,524.2 1037.2,522.2 1040.4,521.7 1040.3,519.4 1043.5,519.9 1044.9,517.9 1047.4,519.3 1049.9,517.9 1051.3,519.9 1054.5,519.4 1054.4,521.7 1057.6,522.2 1056.2,524.2" fill="#96140f"/>
<ellipse cx="1046.4" cy="524.1" rx="5.2" ry="2.9" fill="#c43a2e" opacity="0.45"/>
<path d="M1011.3 539.2 q-3 2 -3.5 5 q-1 3 -4 1.5" fill="none" stroke="#a88a5a" stroke-width="1.8" stroke-linecap="round"/>
<polygon points="1029.5,534.6 1027.0,536.0 1028.4,538.0 1025.2,538.5 1025.3,540.8 1022.1,540.3 1020.7,542.3 1018.2,540.9 1015.7,542.3 1014.3,540.3 1011.1,540.8 1011.2,538.5 1008.0,538.0 1009.4,536.0 1006.9,534.6 1009.4,533.2 1008.0,531.2 1011.2,530.7 1011.1,528.4 1014.3,528.9 1015.7,526.9 1018.2,528.3 1020.7,526.9 1022.1,528.9 1025.3,528.4 1025.2,530.7 1028.4,531.2 1027.0,533.2" fill="#96140f"/>
<ellipse cx="1017.2" cy="533.1" rx="5.2" ry="2.9" fill="#c43a2e" opacity="0.45"/>
<g transform="translate(1135.1 443.6) rotate(25) scale(1.1)"><path d="M-11 2 q-5 3 -3 7" fill="none" stroke="#3b52d6" stroke-width="1.3"/><ellipse rx="12" ry="6.5" fill="#2c41cf"/><ellipse cx="-2" cy="-2" rx="7" ry="2.5" fill="#5a72ee" opacity="0.6"/></g>
<g transform="translate(1158.7 457.1) rotate(25) scale(1.1)"><path d="M-11 2 q-5 3 -3 7" fill="none" stroke="#3b52d6" stroke-width="1.3"/><ellipse rx="12" ry="6.5" fill="#2c41cf"/><ellipse cx="-2" cy="-2" rx="7" ry="2.5" fill="#5a72ee" opacity="0.6"/></g>
<g transform="translate(1135.1 463.8) rotate(25) scale(1.1)"><path d="M-11 2 q-5 3 -3 7" fill="none" stroke="#3b52d6" stroke-width="1.3"/><ellipse rx="12" ry="6.5" fill="#2c41cf"/><ellipse cx="-2" cy="-2" rx="7" ry="2.5" fill="#5a72ee" opacity="0.6"/></g>
<g transform="translate(1123.8 484.0) rotate(25) scale(1.1)"><path d="M-11 2 q-5 3 -3 7" fill="none" stroke="#3b52d6" stroke-width="1.3"/><ellipse rx="12" ry="6.5" fill="#2c41cf"/><ellipse cx="-2" cy="-2" rx="7" ry="2.5" fill="#5a72ee" opacity="0.6"/></g>
<g transform="translate(1109.2 542.5) rotate(0)"><path d="M-1 11.5 l-4 4 M1 11.5 l4 4" stroke="#8e1420" stroke-width="2" stroke-linecap="round"/><ellipse rx="3.25" ry="13.5" fill="#8e1420"/><ellipse cx="-0.8" cy="-2" rx="1.3" ry="8.4" fill="#c23040" opacity="0.5"/></g>
<g transform="translate(1130.1 541.3) rotate(0)"><path d="M-1 11.5 l-4 4 M1 11.5 l4 4" stroke="#8e1420" stroke-width="2" stroke-linecap="round"/><ellipse rx="3.25" ry="13.5" fill="#8e1420"/><ellipse cx="-0.8" cy="-2" rx="1.3" ry="8.4" fill="#c23040" opacity="0.5"/></g>
<g transform="translate(1121.6 554.8) rotate(0)"><path d="M-1 11.5 l-4 4 M1 11.5 l4 4" stroke="#8e1420" stroke-width="2" stroke-linecap="round"/><ellipse rx="3.25" ry="13.5" fill="#8e1420"/><ellipse cx="-0.8" cy="-2" rx="1.3" ry="8.4" fill="#c23040" opacity="0.5"/></g>
<g transform="translate(1140.0 566.1) rotate(0)"><path d="M-1 11.5 l-4 4 M1 11.5 l4 4" stroke="#8e1420" stroke-width="2" stroke-linecap="round"/><ellipse rx="3.25" ry="13.5" fill="#8e1420"/><ellipse cx="-0.8" cy="-2" rx="1.3" ry="8.4" fill="#c23040" opacity="0.5"/></g>
<g transform="translate(1113.0 577.3) rotate(0)"><path d="M-1 11.5 l-4 4 M1 11.5 l4 4" stroke="#8e1420" stroke-width="2" stroke-linecap="round"/><ellipse rx="3.25" ry="13.5" fill="#8e1420"/><ellipse cx="-0.8" cy="-2" rx="1.3" ry="8.4" fill="#c23040" opacity="0.5"/></g>
<g transform="translate(1129.4 575.1) rotate(0)"><path d="M-1 11.5 l-4 4 M1 11.5 l4 4" stroke="#8e1420" stroke-width="2" stroke-linecap="round"/><ellipse rx="3.25" ry="13.5" fill="#8e1420"/><ellipse cx="-0.8" cy="-2" rx="1.3" ry="8.4" fill="#c23040" opacity="0.5"/></g>
<g transform="translate(1119.3 612.1) rotate(60)"><path d="M-1 10.5 l-4 4 M1 10.5 l4 4" stroke="#8e1420" stroke-width="2" stroke-linecap="round"/><ellipse rx="3.0" ry="12.5" fill="#8e1420"/><ellipse cx="-0.8" cy="-2" rx="1.2" ry="7.8" fill="#c23040" opacity="0.5"/></g>
<g transform="translate(1142.2 620.0) rotate(0)"><path d="M-1 10.5 l-4 4 M1 10.5 l4 4" stroke="#8e1420" stroke-width="2" stroke-linecap="round"/><ellipse rx="3.0" ry="12.5" fill="#8e1420"/><ellipse cx="-0.8" cy="-2" rx="1.2" ry="7.8" fill="#c23040" opacity="0.5"/></g>
<g transform="translate(1112.6 636.2) rotate(85)"><path d="M-1 10.5 l-4 4 M1 10.5 l4 4" stroke="#8e1420" stroke-width="2" stroke-linecap="round"/><ellipse rx="3.0" ry="12.5" fill="#8e1420"/><ellipse cx="-0.8" cy="-2" rx="1.2" ry="7.8" fill="#c23040" opacity="0.5"/></g>
<g transform="translate(1122.7 656.0) rotate(60)"><path d="M-1 10.5 l-4 4 M1 10.5 l4 4" stroke="#8e1420" stroke-width="2" stroke-linecap="round"/><ellipse rx="3.0" ry="12.5" fill="#8e1420"/><ellipse cx="-0.8" cy="-2" rx="1.2" ry="7.8" fill="#c23040" opacity="0.5"/></g>
<ellipse cx="1018.2" cy="586.3" rx="6.6" ry="8.6" fill="url(#rg)"/>
<ellipse cx="1027.2" cy="586.3" rx="6.6" ry="8.6" fill="url(#rg)"/>
<ellipse cx="1040.7" cy="594.2" rx="6.6" ry="8.6" fill="url(#rg)"/>
<ellipse cx="1026.1" cy="608.8" rx="6.6" ry="8.6" fill="url(#rg)"/>
<ellipse cx="1039.6" cy="612.1" rx="6.6" ry="8.6" fill="url(#rg)"/>
<ellipse cx="1032.1" cy="626.7" rx="6.6" ry="8.6" fill="url(#rg)"/>
<ellipse cx="1063.1" cy="593.5" rx="6.6" ry="8.6" fill="url(#rg)"/>
<ellipse cx="1076.6" cy="586.3" rx="6.6" ry="8.6" fill="url(#rg)"/>
<ellipse cx="1091.9" cy="598.7" rx="6.6" ry="8.6" fill="url(#rg)"/>
<ellipse cx="1065.8" cy="620.0" rx="6.6" ry="8.6" fill="url(#rg)"/>
<ellipse cx="1080.0" cy="614.4" rx="6.6" ry="8.6" fill="url(#rg)"/>
<rect x="1035.9" y="683.5" width="14" height="7" rx="3.2" fill="#f5821f" transform="rotate(-60 1042.9 687.0)"/>
<rect x="1019.2" y="695.8" width="16" height="7" rx="3.2" fill="#f5821f" transform="rotate(25 1027.2 699.3)"/>
<rect x="1036.0" y="700.3" width="16" height="7" rx="3.2" fill="#f5821f" transform="rotate(30 1044.0 703.8)"/>
<rect x="1021.6" y="712.2" width="18" height="7" rx="3.2" fill="#f5821f" transform="rotate(25 1030.6 715.7)"/>
<rect x="1055.1" y="692.5" width="16" height="7" rx="3.2" fill="#f5821f" transform="rotate(-60 1063.1 696.0)"/>
<rect x="1046.5" y="713.8" width="22" height="7" rx="3.2" fill="#f5821f" transform="rotate(-55 1057.5 717.3)"/>
<rect x="1055.3" y="717.2" width="27" height="7" rx="3.2" fill="#f5821f" transform="rotate(-60 1068.8 720.7)"/>
<rect x="1076.9" y="704.8" width="22" height="7" rx="3.2" fill="#f5821f" transform="rotate(-60 1087.9 708.3)"/>
<rect x="1069.9" y="719.4" width="18" height="7" rx="3.2" fill="#f5821f" transform="rotate(-60 1078.9 722.9)"/>
<rect x="1063.4" y="732.9" width="22" height="7" rx="3.2" fill="#f5821f" transform="rotate(-55 1074.4 736.4)"/>
<rect x="1081.4" y="726.2" width="22" height="7" rx="3.2" fill="#f5821f" transform="rotate(-65 1092.4 729.7)"/>
<g transform="translate(1029.4 794.8) scale(0.85)"><path d="M3 -4 q5 -5 9 -2 M-3 4 q-4 6 2 8 M4 4 q5 4 3 8" fill="none" stroke="#c27a45" stroke-width="1.6" stroke-linecap="round"/><circle r="6" fill="#cf7d4c"/><circle cx="-1.5" cy="-1.5" r="3" fill="#e39a6a" opacity="0.7"/></g>
<g transform="translate(1039.6 796.0) scale(0.85)"><path d="M3 -4 q5 -5 9 -2 M-3 4 q-4 6 2 8 M4 4 q5 4 3 8" fill="none" stroke="#c27a45" stroke-width="1.6" stroke-linecap="round"/><circle r="6" fill="#cf7d4c"/><circle cx="-1.5" cy="-1.5" r="3" fill="#e39a6a" opacity="0.7"/></g>
<g transform="translate(1048.5 785.8) scale(0.85)"><path d="M3 -4 q5 -5 9 -2 M-3 4 q-4 6 2 8 M4 4 q5 4 3 8" fill="none" stroke="#c27a45" stroke-width="1.6" stroke-linecap="round"/><circle r="6" fill="#cf7d4c"/><circle cx="-1.5" cy="-1.5" r="3" fill="#e39a6a" opacity="0.7"/></g>
<g transform="translate(1053.0 793.7) scale(0.85)"><path d="M3 -4 q5 -5 9 -2 M-3 4 q-4 6 2 8 M4 4 q5 4 3 8" fill="none" stroke="#c27a45" stroke-width="1.6" stroke-linecap="round"/><circle r="6" fill="#cf7d4c"/><circle cx="-1.5" cy="-1.5" r="3" fill="#e39a6a" opacity="0.7"/></g>
<g transform="translate(1040.7 811.7) scale(0.85)"><path d="M3 -4 q5 -5 9 -2 M-3 4 q-4 6 2 8 M4 4 q5 4 3 8" fill="none" stroke="#c27a45" stroke-width="1.6" stroke-linecap="round"/><circle r="6" fill="#cf7d4c"/><circle cx="-1.5" cy="-1.5" r="3" fill="#e39a6a" opacity="0.7"/></g>
<g transform="translate(1106.3 773.5) scale(0.85)"><path d="M3 -4 q5 -5 9 -2 M-3 4 q-4 6 2 8 M4 4 q5 4 3 8" fill="none" stroke="#c27a45" stroke-width="1.6" stroke-linecap="round"/><circle r="6" fill="#cf7d4c"/><circle cx="-1.5" cy="-1.5" r="3" fill="#e39a6a" opacity="0.7"/></g>
<g transform="translate(1118.2 780.2) scale(0.85)"><path d="M3 -4 q5 -5 9 -2 M-3 4 q-4 6 2 8 M4 4 q5 4 3 8" fill="none" stroke="#c27a45" stroke-width="1.6" stroke-linecap="round"/><circle r="6" fill="#cf7d4c"/><circle cx="-1.5" cy="-1.5" r="3" fill="#e39a6a" opacity="0.7"/></g>
<g transform="translate(1135.7 780.2) scale(0.85)"><path d="M3 -4 q5 -5 9 -2 M-3 4 q-4 6 2 8 M4 4 q5 4 3 8" fill="none" stroke="#c27a45" stroke-width="1.6" stroke-linecap="round"/><circle r="6" fill="#cf7d4c"/><circle cx="-1.5" cy="-1.5" r="3" fill="#e39a6a" opacity="0.7"/></g>
<g transform="translate(1112.6 800.4) scale(0.85)"><path d="M3 -4 q5 -5 9 -2 M-3 4 q-4 6 2 8 M4 4 q5 4 3 8" fill="none" stroke="#c27a45" stroke-width="1.6" stroke-linecap="round"/><circle r="6" fill="#cf7d4c"/><circle cx="-1.5" cy="-1.5" r="3" fill="#e39a6a" opacity="0.7"/></g>
<g transform="translate(1129.4 800.4) scale(0.85)"><path d="M3 -4 q5 -5 9 -2 M-3 4 q-4 6 2 8 M4 4 q5 4 3 8" fill="none" stroke="#c27a45" stroke-width="1.6" stroke-linecap="round"/><circle r="6" fill="#cf7d4c"/><circle cx="-1.5" cy="-1.5" r="3" fill="#e39a6a" opacity="0.7"/></g>
<ellipse cx="1080.0" cy="794.8" rx="4" ry="14.6" fill="#8f1a5c" transform="rotate(4 1080.0 794.8)"/>
<ellipse cx="1072.1" cy="816.2" rx="4.5" ry="17" fill="#8f1a5c" transform="rotate(2 1072.1 816.2)"/>
<ellipse cx="1092.4" cy="816.2" rx="4" ry="17" fill="#8f1a5c" transform="rotate(5 1092.4 816.2)"/>
<ellipse cx="1083.8" cy="834.2" rx="4.5" ry="17" fill="#8f1a5c" transform="rotate(5 1083.8 834.2)"/>
<ellipse cx="1014.8" cy="833.0" rx="17" ry="4.5" fill="#8f1a5c" transform="rotate(0 1014.8 833.0)"/>
<ellipse cx="1051.9" cy="842.0" rx="17" ry="4.7" fill="#8f1a5c" transform="rotate(38 1051.9 842.0)"/>
<ellipse cx="1017.1" cy="856.6" rx="17" ry="4.7" fill="#8f1a5c" transform="rotate(-40 1017.1 856.6)"/>
<circle cx="993.5" cy="847.6" r="4" fill="#8f1a5c"/>
<circle cx="1042.2" cy="864.5" r="4.5" fill="#8f1a5c"/>
<ellipse cx="1138.4" cy="892.6" rx="9.3" ry="8" fill="#c4edf6" stroke="#45b3cd" stroke-width="1.6"/>
<ellipse cx="1160.9" cy="892.6" rx="9.3" ry="8" fill="#c4edf6" stroke="#45b3cd" stroke-width="1.6"/>
<ellipse cx="1177.8" cy="905.6" rx="9.3" ry="8" fill="#c4edf6" stroke="#45b3cd" stroke-width="1.6"/>
<ellipse cx="1132.8" cy="911.7" rx="9.3" ry="8" fill="#c4edf6" stroke="#45b3cd" stroke-width="1.6"/>
<ellipse cx="1155.3" cy="911.7" rx="9.3" ry="8" fill="#c4edf6" stroke="#45b3cd" stroke-width="1.6"/>
<path d="M1563.6 291.7 C1565.4 280.8 1563.6 289.2 1568.1 284.4 C1572.6 279.6 1574.5 283.2 1577.2 277.2 C1579.9 271.2 1573.3 271.8 1576.3 266.3 C1579.3 260.8 1579.3 261.7 1586.3 260.8 C1593.3 259.9 1591.2 259.4 1597.2 263.6 C1603.2 267.8 1600.2 270.8 1604.4 273.5 C1608.6 276.2 1608.7 278.9 1609.9 271.7 C1611.1 264.5 1605.0 261.2 1608.0 251.8 C1611.0 242.4 1611.6 245.4 1618.9 243.6 C1626.2 241.8 1624.3 241.8 1629.8 246.3 C1635.3 250.8 1630.5 255.4 1635.3 257.2 C1640.1 259.0 1638.3 251.2 1644.3 251.8 C1650.3 252.4 1649.2 251.1 1653.4 259.0 C1657.6 266.9 1652.8 265.7 1657.0 275.4 C1661.2 285.1 1661.3 277.7 1666.1 288.0 C1670.9 298.3 1668.5 294.1 1671.5 306.2 C1674.5 318.3 1671.0 312.2 1675.2 324.3 C1679.4 336.4 1680.9 331.6 1684.2 342.5 C1687.5 353.4 1687.5 346.7 1685.1 357.0 C1682.7 367.3 1680.3 362.4 1677.0 373.3 C1673.7 384.2 1678.8 379.3 1675.2 389.6 C1671.6 399.9 1671.6 393.8 1666.1 404.1 C1660.6 414.4 1667.3 414.1 1658.8 420.5 C1650.3 426.9 1649.8 424.4 1640.7 423.2 C1631.6 422.0 1640.7 416.2 1631.6 416.8 C1622.5 417.4 1625.6 423.8 1613.5 425.0 C1601.4 426.2 1607.5 423.8 1595.4 420.5 C1583.3 417.2 1584.8 421.1 1577.2 415.0 C1569.6 408.9 1572.1 410.8 1572.7 402.3 C1573.3 393.8 1578.1 398.7 1579.0 389.6 C1579.9 380.5 1578.4 386.0 1575.4 375.1 C1572.4 364.2 1573.6 369.1 1570.0 357.0 C1566.4 344.9 1566.9 352.1 1564.5 338.8 C1562.1 325.5 1563.0 332.8 1562.7 317.1 C1562.4 301.4 1561.8 302.6 1563.6 291.7Z" fill="#b2b2b2" filter="url(#noise)"/>
<path d="M1589.0 291.7 C1590.6 287.9 1592.7 286.1 1594.4 290.8 C1596.1 295.5 1589.9 315.5 1597.5 315.3 C1605.1 315.1 1623.9 294.4 1632.5 289.9 C1641.1 285.4 1639.8 290.1 1640.7 292.6 C1641.6 295.1 1642.9 295.5 1637.1 302.6 C1631.3 309.7 1614.6 319.3 1611.7 328.0 C1608.8 336.7 1620.8 340.7 1622.6 346.1 C1624.4 351.5 1626.1 355.9 1620.7 355.2 C1615.3 354.5 1603.0 344.3 1595.4 342.5 C1587.8 340.7 1585.8 338.8 1582.7 346.1 C1579.6 353.4 1581.9 372.5 1579.9 378.8 C1577.9 385.1 1574.3 384.3 1572.7 377.8 C1571.1 371.3 1584.7 353.3 1571.8 346.1 C1558.9 338.9 1521.0 343.8 1508.3 341.6 C1495.6 339.4 1496.7 337.4 1508.3 335.2 C1519.9 333.0 1552.5 333.6 1566.3 330.7 C1580.1 327.8 1573.2 324.9 1577.2 320.7 C1581.2 316.5 1583.9 315.6 1586.3 309.8 C1588.7 304.0 1587.4 295.5 1589.0 291.7Z" fill="#d3caec" opacity="0.95"/>
<path d="M1709.3 433.6 C1715.0 425.4 1712.1 428.3 1724.2 424.0 C1736.3 419.7 1732.3 421.3 1745.5 420.8 C1758.7 420.3 1755.1 418.2 1763.7 422.5 C1772.3 426.8 1769.4 424.2 1771.2 433.6 C1773.0 443.0 1771.5 439.3 1769.0 450.7 C1766.5 462.1 1771.5 458.5 1763.7 467.7 C1755.9 476.9 1757.2 475.5 1745.5 478.4 C1733.8 481.3 1738.4 480.6 1728.5 476.3 C1718.6 472.0 1722.8 474.9 1715.7 465.6 C1708.6 456.3 1709.2 459.2 1707.1 448.5 C1705.0 437.8 1703.6 441.8 1709.3 433.6Z" fill="url(#mac)" stroke="#c2525f" stroke-width="1.9"/>
<ellipse cx="1711.4" cy="465.6" rx="7.9" ry="9.7" fill="#f8c9cb" stroke="#c2525f" stroke-width="1.5"/>
<ellipse cx="1769.5" cy="478.4" rx="8.4" ry="10.3" fill="#f8c9cb" stroke="#c2525f" stroke-width="1.5"/>
<ellipse cx="1737.0" cy="451.7" rx="7.5" ry="10" fill="#f9cfd0" stroke="#c2525f" stroke-width="1.5"/>
<path d="M1683.6 542.5 C1689.7 534.0 1685.8 536.4 1698.6 531.8 C1711.4 527.2 1707.9 527.9 1722.1 528.6 C1736.3 529.3 1733.5 526.4 1741.3 533.9 C1749.1 541.4 1745.2 539.6 1745.5 551.0 C1745.8 562.4 1745.8 557.4 1742.3 568.1 C1738.8 578.8 1743.8 575.9 1734.9 583.0 C1726.0 590.1 1727.8 588.7 1715.7 589.4 C1703.6 590.1 1708.6 590.8 1698.6 585.1 C1688.6 579.4 1691.9 581.5 1685.8 572.3 C1679.7 563.1 1681.1 567.3 1680.4 557.4 C1679.7 547.5 1677.5 551.0 1683.6 542.5Z" fill="url(#mac)" stroke="#c2525f" stroke-width="1.9"/>
<ellipse cx="1737.0" cy="523.2" rx="7.7" ry="9.5" fill="#f8c9cb" stroke="#c2525f" stroke-width="1.5"/>
<ellipse cx="1743.0" cy="587.3" rx="8.4" ry="10.3" fill="#f8c9cb" stroke="#c2525f" stroke-width="1.5"/>
<ellipse cx="1710.3" cy="559.5" rx="7.5" ry="10" fill="#f9cfd0" stroke="#c2525f" stroke-width="1.5"/>
<path d="M1623.9 893.4 C1631.7 883.4 1628.9 888.1 1643.1 884.9 C1657.3 881.7 1653.8 882.0 1666.6 883.8 C1679.4 885.6 1675.5 882.7 1681.5 890.2 C1687.5 897.7 1684.3 894.5 1684.7 906.3 C1685.1 918.1 1685.1 913.4 1682.6 925.5 C1680.1 937.6 1684.7 934.7 1677.2 942.5 C1669.7 950.3 1673.0 947.5 1660.2 948.9 C1647.4 950.3 1650.9 951.8 1638.8 946.8 C1626.7 941.8 1630.3 944.7 1623.9 934.0 C1617.5 923.3 1619.6 928.3 1619.6 914.8 C1619.6 901.3 1616.1 903.4 1623.9 893.4Z" fill="url(#mac)" stroke="#c2525f" stroke-width="1.9"/>
<ellipse cx="1676.2" cy="875.3" rx="7.9" ry="9.7" fill="#f8c9cb" stroke="#c2525f" stroke-width="1.5"/>
<ellipse cx="1681.5" cy="943.6" rx="8.4" ry="10.3" fill="#f8c9cb" stroke="#c2525f" stroke-width="1.5"/>
<ellipse cx="1649.5" cy="911.6" rx="7.5" ry="10" fill="#f9cfd0" stroke="#c2525f" stroke-width="1.5"/>
<path d="M1588.7 744.0 C1591.2 738.8 1591.5 738.0 1594.0 743.0 C1596.5 748.0 1591.6 765.7 1599.3 765.4 C1607.0 765.1 1618.1 747.6 1627.1 741.9 C1636.1 736.2 1634.8 739.3 1637.8 740.8 C1640.8 742.3 1643.1 744.1 1639.9 748.3 C1636.7 752.5 1629.6 753.0 1623.9 759.0 C1618.2 765.0 1618.8 768.9 1615.3 773.9 C1611.8 778.9 1608.4 775.3 1608.9 780.3 C1609.4 785.3 1613.5 789.3 1617.5 795.3 C1621.5 801.3 1626.0 802.2 1626.0 805.9 C1626.0 809.6 1623.2 812.3 1617.5 811.3 C1611.8 810.3 1607.5 804.5 1601.5 801.7 C1595.5 798.9 1596.6 798.0 1591.9 799.5 C1587.2 801.0 1584.2 800.1 1581.2 808.1 C1578.2 816.1 1580.8 827.5 1579.1 833.7 C1577.3 839.9 1575.7 838.7 1573.7 834.7 C1571.7 830.7 1571.5 824.6 1570.5 816.6 C1569.5 808.6 1573.5 805.1 1569.5 800.6 C1565.5 796.1 1562.1 798.0 1553.4 797.2 C1544.7 796.4 1541.3 797.2 1532.1 797.2 C1522.9 797.2 1519.4 797.6 1514.0 797.2 C1508.6 796.8 1510.5 796.6 1509.1 795.5 C1507.7 794.4 1507.8 793.8 1507.8 792.3 C1507.8 790.8 1507.7 790.2 1509.1 789.1 C1510.5 788.0 1508.6 787.8 1514.0 787.4 C1519.4 787.0 1522.9 787.4 1532.1 787.4 C1541.3 787.4 1544.9 790.5 1553.4 787.4 C1561.9 784.2 1561.4 779.0 1568.4 773.9 C1575.4 768.8 1578.6 772.4 1583.3 765.4 C1588.0 758.4 1586.2 749.2 1588.7 744.0Z" fill="url(#den)" stroke="#8c7fb6" stroke-width="1.5"/>
<path d="M1638.8 748.3 C1642.4 743.0 1636.0 745.3 1647.4 743.0 C1658.8 740.7 1657.4 741.9 1673.0 741.5 C1688.6 741.1 1685.1 738.9 1694.3 741.9 C1703.5 744.9 1699.3 742.6 1700.7 750.4 C1702.1 758.2 1701.4 755.8 1698.6 765.4 C1695.8 775.0 1700.7 774.3 1692.2 779.3 C1683.7 784.3 1685.8 781.0 1673.0 780.3 C1660.2 779.6 1664.5 780.7 1653.8 777.1 C1643.1 773.5 1646.7 775.6 1641.0 769.6 C1635.3 763.6 1637.4 766.1 1636.7 759.0 C1636.0 751.9 1635.2 753.6 1638.8 748.3Z" fill="url(#den)" stroke="#8c7fb6" stroke-width="1.5"/>
<text x="1645.8" y="234.5" font-size="24.5" stroke="#111" stroke-width="0.4" textLength="116.2" lengthAdjust="spacingAndGlyphs">Lymphoid</text>
<text x="1661.6" y="268.7" font-size="24.5" stroke="#111" stroke-width="0.4" textLength="82.4" lengthAdjust="spacingAndGlyphs">folicles</text>
<text x="1602.7" y="620.7" font-size="27" stroke="#111" stroke-width="0.4" textLength="121.7" lengthAdjust="spacingAndGlyphs">Cells with</text>
<text x="1591.3" y="657" font-size="27" stroke="#111" stroke-width="0.4" textLength="144.5" lengthAdjust="spacingAndGlyphs">recognition</text>
<text x="1602.7" y="692.5" font-size="27" stroke="#111" stroke-width="0.4" textLength="121.0" lengthAdjust="spacingAndGlyphs">receptors</text>
<text x="1590.6" y="839" font-size="27" stroke="#111" stroke-width="0.4" textLength="178.4" lengthAdjust="spacingAndGlyphs">Dendritic cells</text>
<ellipse cx="1478.7" cy="236.7" rx="8.5" ry="7.6" fill="url(#og)"/>
<ellipse cx="1451.0" cy="250.6" rx="8.5" ry="7.6" fill="url(#og)"/>
<ellipse cx="1424.3" cy="264.4" rx="8.5" ry="7.6" fill="url(#og)"/>
<ellipse cx="1485.1" cy="258.7" rx="8.5" ry="7.6" fill="url(#og)"/>
<ellipse cx="1514.0" cy="255.9" rx="8.5" ry="7.6" fill="url(#og)"/>
<ellipse cx="1544.3" cy="255.5" rx="8.5" ry="7.6" fill="url(#og)"/>
<ellipse cx="1477.0" cy="283.2" rx="8.5" ry="7.6" fill="url(#og)"/>
<ellipse cx="1395.1" cy="292.8" rx="8.5" ry="7.6" fill="url(#og)"/>
<ellipse cx="1437.1" cy="296.4" rx="8.5" ry="7.6" fill="url(#og)"/>
<ellipse cx="1587.0" cy="241.6" rx="8.5" ry="7.6" fill="url(#og)"/>
<ellipse cx="1774.4" cy="259.5" rx="8.5" ry="7.6" fill="url(#og)"/>
<ellipse cx="1768.6" cy="283.6" rx="8.5" ry="7.6" fill="url(#og)"/>
<ellipse cx="1701.4" cy="299.2" rx="8.5" ry="7.6" fill="url(#og)"/>
<ellipse cx="1739.1" cy="317.8" rx="8.5" ry="7.6" fill="url(#og)"/>
<ellipse cx="1755.4" cy="338.1" rx="8.5" ry="7.6" fill="url(#og)"/>
<ellipse cx="1490.5" cy="348.3" rx="8.5" ry="7.6" fill="url(#og)"/>
<ellipse cx="1474.0" cy="376.5" rx="8.5" ry="7.6" fill="url(#og)"/>
<ellipse cx="1501.8" cy="390.4" rx="8.5" ry="7.6" fill="url(#og)"/>
<ellipse cx="1702.2" cy="379.7" rx="8.5" ry="7.6" fill="url(#og)"/>
<ellipse cx="1382.7" cy="389.9" rx="8.5" ry="7.6" fill="url(#og)"/>
<ellipse cx="1421.8" cy="390.4" rx="8.5" ry="7.6" fill="url(#og)"/>
<ellipse cx="1391.2" cy="404.2" rx="8.5" ry="7.6" fill="url(#og)"/>
<ellipse cx="1457.4" cy="403.2" rx="8.5" ry="7.6" fill="url(#og)"/>
<ellipse cx="1368.2" cy="417.5" rx="8.5" ry="7.6" fill="url(#og)"/>
<ellipse cx="1432.2" cy="417.0" rx="8.5" ry="7.6" fill="url(#og)"/>
<ellipse cx="1487.3" cy="417.5" rx="8.5" ry="7.6" fill="url(#og)"/>
<ellipse cx="1409.4" cy="430.9" rx="8.5" ry="7.6" fill="url(#og)"/>
<ellipse cx="1448.4" cy="438.4" rx="8.5" ry="7.6" fill="url(#og)"/>
<ellipse cx="1391.2" cy="445.9" rx="8.5" ry="7.6" fill="url(#og)"/>
<ellipse cx="1474.5" cy="444.8" rx="8.5" ry="7.6" fill="url(#og)"/>
<ellipse cx="1598.3" cy="448.0" rx="8.5" ry="7.6" fill="url(#og)"/>
<ellipse cx="1628.6" cy="452.3" rx="8.5" ry="7.6" fill="url(#og)"/>
<ellipse cx="1419.0" cy="458.8" rx="8.5" ry="7.6" fill="url(#og)"/>
<ellipse cx="1482.6" cy="457.5" rx="8.5" ry="7.6" fill="url(#og)"/>
<ellipse cx="1514.0" cy="457.5" rx="8.5" ry="7.6" fill="url(#og)"/>
<ellipse cx="1541.7" cy="457.5" rx="8.5" ry="7.6" fill="url(#og)"/>
<ellipse cx="1568.8" cy="457.5" rx="8.5" ry="7.6" fill="url(#og)"/>
<ellipse cx="1380.1" cy="473.1" rx="8.5" ry="7.6" fill="url(#og)"/>
<ellipse cx="1446.1" cy="473.1" rx="8.5" ry="7.6" fill="url(#og)"/>
<ellipse cx="1404.0" cy="487.4" rx="8.5" ry="7.6" fill="url(#og)"/>
<ellipse cx="1474.9" cy="487.4" rx="8.5" ry="7.6" fill="url(#og)"/>
<ellipse cx="1600.4" cy="480.1" rx="8.5" ry="7.6" fill="url(#og)"/>
<ellipse cx="1628.8" cy="495.1" rx="8.5" ry="7.6" fill="url(#og)"/>
<ellipse cx="1672.6" cy="505.7" rx="8.5" ry="7.6" fill="url(#og)"/>
<ellipse cx="1432.8" cy="500.8" rx="8.5" ry="7.6" fill="url(#og)"/>
<ellipse cx="1368.8" cy="518.5" rx="8.5" ry="7.6" fill="url(#og)"/>
<ellipse cx="1405.7" cy="520.7" rx="8.5" ry="7.6" fill="url(#og)"/>
<ellipse cx="1460.6" cy="514.3" rx="8.5" ry="7.6" fill="url(#og)"/>
<ellipse cx="1492.6" cy="515.1" rx="8.5" ry="7.6" fill="url(#og)"/>
<ellipse cx="1396.6" cy="545.7" rx="8.5" ry="7.6" fill="url(#og)"/>
<ellipse cx="1432.4" cy="542.0" rx="8.5" ry="7.6" fill="url(#og)"/>
<ellipse cx="1467.6" cy="541.4" rx="8.5" ry="7.6" fill="url(#og)"/>
<ellipse cx="1476.2" cy="556.3" rx="8.5" ry="7.6" fill="url(#og)"/>
<ellipse cx="1375.2" cy="570.6" rx="8.5" ry="7.6" fill="url(#og)"/>
<ellipse cx="1404.0" cy="569.8" rx="8.5" ry="7.6" fill="url(#og)"/>
<ellipse cx="1433.9" cy="569.8" rx="8.5" ry="7.6" fill="url(#og)"/>
<ellipse cx="1445.7" cy="583.4" rx="8.5" ry="7.6" fill="url(#og)"/>
<ellipse cx="1617.5" cy="574.9" rx="8.5" ry="7.6" fill="url(#og)"/>
<ellipse cx="1395.1" cy="603.9" rx="8.5" ry="7.6" fill="url(#og)"/>
<ellipse cx="1476.0" cy="599.0" rx="8.5" ry="7.6" fill="url(#og)"/>
<ellipse cx="1504.4" cy="599.0" rx="8.5" ry="7.6" fill="url(#og)"/>
<ellipse cx="1432.2" cy="613.3" rx="8.5" ry="7.6" fill="url(#og)"/>
<ellipse cx="1460.6" cy="614.0" rx="8.5" ry="7.6" fill="url(#og)"/>
<ellipse cx="1476.0" cy="615.0" rx="8.5" ry="7.6" fill="url(#og)"/>
<ellipse cx="1409.4" cy="636.4" rx="8.5" ry="7.6" fill="url(#og)"/>
<ellipse cx="1443.1" cy="640.6" rx="8.5" ry="7.6" fill="url(#og)"/>
<ellipse cx="1492.2" cy="644.5" rx="8.5" ry="7.6" fill="url(#og)"/>
<ellipse cx="1416.4" cy="656.0" rx="8.5" ry="7.6" fill="url(#og)"/>
<ellipse cx="1449.9" cy="683.3" rx="8.5" ry="7.6" fill="url(#og)"/>
<ellipse cx="1759.4" cy="674.8" rx="8.5" ry="7.6" fill="url(#og)"/>
<ellipse cx="1422.2" cy="700.9" rx="8.5" ry="7.6" fill="url(#og)"/>
<ellipse cx="1668.7" cy="763.2" rx="8.5" ry="7.6" fill="url(#og)"/>
<ellipse cx="1735.9" cy="784.6" rx="8.5" ry="7.6" fill="url(#og)"/>
<ellipse cx="1645.2" cy="864.6" rx="8.5" ry="7.6" fill="url(#og)"/>
<ellipse cx="1726.3" cy="858.2" rx="8.5" ry="7.6" fill="url(#og)"/>
<ellipse cx="1757.3" cy="855.7" rx="8.5" ry="7.6" fill="url(#og)"/>
<ellipse cx="1723.1" cy="872.1" rx="8.5" ry="7.6" fill="url(#og)"/>
<ellipse cx="1745.5" cy="889.8" rx="8.5" ry="7.6" fill="url(#og)"/>
<ellipse cx="1737.0" cy="928.8" rx="8.5" ry="7.6" fill="url(#og)"/>
<ellipse cx="1598.3" cy="955.3" rx="8.5" ry="7.6" fill="url(#og)"/>
<ellipse cx="1648.4" cy="970.4" rx="8.5" ry="7.6" fill="url(#og)"/>
<ellipse cx="1694.7" cy="970.4" rx="8.5" ry="7.6" fill="url(#og)"/>
<ellipse cx="1727.0" cy="962.3" rx="8.5" ry="7.6" fill="url(#og)"/>
<ellipse cx="1757.7" cy="980.4" rx="8.5" ry="7.6" fill="url(#og)"/>
<ellipse cx="1620.7" cy="997.1" rx="8.5" ry="7.6" fill="url(#og)"/>
<ellipse cx="1666.6" cy="997.1" rx="8.5" ry="7.6" fill="url(#og)"/>
<ellipse cx="1708.2" cy="1011.4" rx="8.5" ry="7.6" fill="url(#og)"/>
<ellipse cx="1741.3" cy="1011.4" rx="8.5" ry="7.6" fill="url(#og)"/>
<ellipse cx="1504.4" cy="755.1" rx="7.6" ry="9.6" fill="url(#tg)"/>
<ellipse cx="1498.4" cy="784.2" rx="7.6" ry="9.6" fill="url(#tg)"/>
<ellipse cx="1746.2" cy="749.4" rx="7.6" ry="9.6" fill="url(#tg)"/>
<ellipse cx="1455.3" cy="881.1" rx="7.6" ry="9.6" fill="url(#tg)"/>
<ellipse cx="1492.0" cy="881.1" rx="7.6" ry="9.6" fill="url(#tg)"/>
<ellipse cx="1521.0" cy="878.5" rx="7.6" ry="9.6" fill="url(#tg)"/>
<ellipse cx="1547.5" cy="873.2" rx="7.6" ry="9.6" fill="url(#tg)"/>
<ellipse cx="1590.8" cy="879.6" rx="7.6" ry="9.6" fill="url(#tg)"/>
<ellipse cx="1423.2" cy="905.2" rx="7.6" ry="9.6" fill="url(#tg)"/>
<ellipse cx="1449.9" cy="921.2" rx="7.6" ry="9.6" fill="url(#tg)"/>
<ellipse cx="1477.7" cy="916.9" rx="7.6" ry="9.6" fill="url(#tg)"/>
<ellipse cx="1455.3" cy="950.6" rx="7.6" ry="9.6" fill="url(#tg)"/>
<ellipse cx="1506.5" cy="936.7" rx="7.6" ry="9.6" fill="url(#tg)"/>
<ellipse cx="1504.4" cy="959.5" rx="7.6" ry="9.6" fill="url(#tg)"/>
</svg>
</body></html>
